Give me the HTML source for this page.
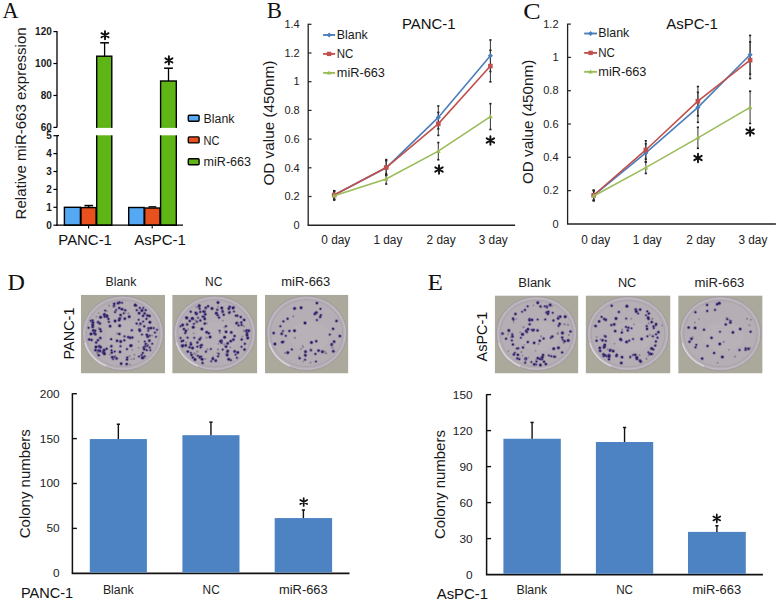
<!DOCTYPE html>
<html><head><meta charset="utf-8"><style>
html,body{margin:0;padding:0;background:#fff;}
svg{display:block;}
</style></head><body>
<svg width="778" height="602" viewBox="0 0 778 602">
<rect width="778" height="602" fill="#fff"/>
<text x="2.40" y="18.40" font-family='"Liberation Serif", serif' font-size="23" font-weight="normal" text-anchor="start" fill="#111" textLength="16.0" lengthAdjust="spacingAndGlyphs">A</text>
<line x1="57.00" y1="31.00" x2="57.00" y2="127.60" stroke="#000" stroke-width="1.3"/>
<line x1="57.00" y1="135.20" x2="57.00" y2="225.80" stroke="#000" stroke-width="1.3"/>
<line x1="53.40" y1="127.40" x2="57.00" y2="127.40" stroke="#000" stroke-width="1.2"/>
<text x="51.80" y="130.80" font-family='"Liberation Sans", sans-serif' font-size="10" font-weight="bold" text-anchor="end" fill="#1a1a1a">60</text>
<line x1="53.40" y1="95.47" x2="57.00" y2="95.47" stroke="#000" stroke-width="1.2"/>
<text x="51.80" y="98.87" font-family='"Liberation Sans", sans-serif' font-size="10" font-weight="bold" text-anchor="end" fill="#1a1a1a">80</text>
<line x1="53.40" y1="63.53" x2="57.00" y2="63.53" stroke="#000" stroke-width="1.2"/>
<text x="51.80" y="66.93" font-family='"Liberation Sans", sans-serif' font-size="10" font-weight="bold" text-anchor="end" fill="#1a1a1a">100</text>
<line x1="53.40" y1="31.60" x2="57.00" y2="31.60" stroke="#000" stroke-width="1.2"/>
<text x="51.80" y="35.00" font-family='"Liberation Sans", sans-serif' font-size="10" font-weight="bold" text-anchor="end" fill="#1a1a1a">120</text>
<line x1="53.40" y1="225.20" x2="57.00" y2="225.20" stroke="#000" stroke-width="1.2"/>
<text x="51.80" y="228.60" font-family='"Liberation Sans", sans-serif' font-size="10" font-weight="bold" text-anchor="end" fill="#1a1a1a">0</text>
<line x1="53.40" y1="207.30" x2="57.00" y2="207.30" stroke="#000" stroke-width="1.2"/>
<text x="51.80" y="210.70" font-family='"Liberation Sans", sans-serif' font-size="10" font-weight="bold" text-anchor="end" fill="#1a1a1a">1</text>
<line x1="53.40" y1="189.40" x2="57.00" y2="189.40" stroke="#000" stroke-width="1.2"/>
<text x="51.80" y="192.80" font-family='"Liberation Sans", sans-serif' font-size="10" font-weight="bold" text-anchor="end" fill="#1a1a1a">2</text>
<line x1="53.40" y1="171.50" x2="57.00" y2="171.50" stroke="#000" stroke-width="1.2"/>
<text x="51.80" y="174.90" font-family='"Liberation Sans", sans-serif' font-size="10" font-weight="bold" text-anchor="end" fill="#1a1a1a">3</text>
<line x1="53.40" y1="153.60" x2="57.00" y2="153.60" stroke="#000" stroke-width="1.2"/>
<text x="51.80" y="157.00" font-family='"Liberation Sans", sans-serif' font-size="10" font-weight="bold" text-anchor="end" fill="#1a1a1a">4</text>
<line x1="53.40" y1="135.70" x2="57.00" y2="135.70" stroke="#000" stroke-width="1.2"/>
<text x="51.80" y="139.10" font-family='"Liberation Sans", sans-serif' font-size="10" font-weight="bold" text-anchor="end" fill="#1a1a1a">5</text>
<line x1="57.00" y1="135.70" x2="59.00" y2="135.70" stroke="#000" stroke-width="1.2"/>
<text transform="translate(25.60,123.40) rotate(-90)" x="0" y="0" font-family='"Liberation Sans", sans-serif' font-size="15" font-weight="normal" text-anchor="middle" fill="#1a1a1a" textLength="192.0" lengthAdjust="spacingAndGlyphs">Relative miR-663 expression</text>
<rect x="64.40" y="207.30" width="16.00" height="17.90" fill="#55a8f4" stroke="#000" stroke-width="1.4"/>
<rect x="81.00" y="207.60" width="15.10" height="17.60" fill="#e8501e" stroke="#000" stroke-width="1.4"/>
<rect x="128.70" y="207.50" width="15.40" height="17.70" fill="#55a8f4" stroke="#000" stroke-width="1.4"/>
<rect x="144.70" y="208.00" width="15.30" height="17.20" fill="#e8501e" stroke="#000" stroke-width="1.4"/>
<rect x="96.70" y="56.20" width="15.10" height="169.00" fill="#5fb515" stroke="#000" stroke-width="1.4"/>
<rect x="160.60" y="81.00" width="15.70" height="144.20" fill="#5fb515" stroke="#000" stroke-width="1.4"/>
<rect x="90.00" y="127.90" width="92.00" height="7.40" fill="#fff"/>
<line x1="84.40" y1="205.60" x2="93.10" y2="205.60" stroke="#000" stroke-width="1.6"/>
<line x1="88.60" y1="205.60" x2="88.60" y2="207.30" stroke="#000" stroke-width="1.3"/>
<line x1="148.50" y1="206.80" x2="156.30" y2="206.80" stroke="#000" stroke-width="1.3"/>
<line x1="104.60" y1="42.80" x2="104.60" y2="56.20" stroke="#000" stroke-width="1.3"/>
<line x1="100.20" y1="42.80" x2="109.00" y2="42.80" stroke="#000" stroke-width="1.5"/>
<line x1="168.50" y1="68.20" x2="168.50" y2="81.00" stroke="#000" stroke-width="1.3"/>
<line x1="164.10" y1="68.20" x2="172.90" y2="68.20" stroke="#000" stroke-width="1.5"/>
<path d="M105.00,31.10L105.00,39.30M101.45,33.15L108.55,37.25M108.55,33.15L101.45,37.25" stroke="#111" stroke-width="1.9" stroke-linecap="round" fill="none"/>
<path d="M168.90,56.30L168.90,64.50M165.35,58.35L172.45,62.45M172.45,58.35L165.35,62.45" stroke="#111" stroke-width="1.9" stroke-linecap="round" fill="none"/>
<line x1="56.40" y1="225.20" x2="183.00" y2="225.20" stroke="#000" stroke-width="1.3"/>
<line x1="88.60" y1="225.20" x2="88.60" y2="228.60" stroke="#000" stroke-width="1.1"/>
<line x1="152.20" y1="225.20" x2="152.20" y2="228.60" stroke="#000" stroke-width="1.1"/>
<text x="58.30" y="244.70" font-family='"Liberation Sans", sans-serif' font-size="14.5" font-weight="normal" text-anchor="start" fill="#111" textLength="53.6" lengthAdjust="spacingAndGlyphs">PANC-1</text>
<text x="134.20" y="244.70" font-family='"Liberation Sans", sans-serif' font-size="14.5" font-weight="normal" text-anchor="start" fill="#111" textLength="51.7" lengthAdjust="spacingAndGlyphs">AsPC-1</text>
<rect x="188.3" y="115.30" width="10.8" height="6.0" rx="1.0" fill="#55a8f4" stroke="#000" stroke-width="1.4"/>
<text x="203.60" y="122.90" font-family='"Liberation Sans", sans-serif' font-size="12.3" font-weight="normal" text-anchor="start" fill="#1a1a1a" textLength="30.9" lengthAdjust="spacingAndGlyphs">Blank</text>
<rect x="188.3" y="136.90" width="10.8" height="6.0" rx="1.0" fill="#e8501e" stroke="#000" stroke-width="1.4"/>
<text x="203.60" y="144.50" font-family='"Liberation Sans", sans-serif' font-size="12.3" font-weight="normal" text-anchor="start" fill="#1a1a1a" textLength="16.0" lengthAdjust="spacingAndGlyphs">NC</text>
<rect x="188.3" y="158.70" width="10.8" height="6.0" rx="1.0" fill="#5fb515" stroke="#000" stroke-width="1.4"/>
<text x="203.60" y="166.30" font-family='"Liberation Sans", sans-serif' font-size="12.3" font-weight="normal" text-anchor="start" fill="#1a1a1a" textLength="47.4" lengthAdjust="spacingAndGlyphs">miR-663</text>
<text x="266.80" y="18.00" font-family='"Liberation Serif", serif' font-size="23" font-weight="normal" text-anchor="start" fill="#111" textLength="15.2" lengthAdjust="spacingAndGlyphs">B</text>
<line x1="308.20" y1="23.80" x2="308.20" y2="225.20" stroke="#222" stroke-width="1.3"/>
<line x1="307.60" y1="225.20" x2="515.10" y2="225.20" stroke="#222" stroke-width="1.5"/>
<text x="299.70" y="228.90" font-family='"Liberation Sans", sans-serif' font-size="11" font-weight="normal" text-anchor="end" fill="#222">0</text>
<line x1="308.20" y1="196.50" x2="311.50" y2="196.50" stroke="#222" stroke-width="1.2"/>
<text x="299.70" y="200.20" font-family='"Liberation Sans", sans-serif' font-size="11" font-weight="normal" text-anchor="end" fill="#222">0.2</text>
<line x1="308.20" y1="167.80" x2="311.50" y2="167.80" stroke="#222" stroke-width="1.2"/>
<text x="299.70" y="171.50" font-family='"Liberation Sans", sans-serif' font-size="11" font-weight="normal" text-anchor="end" fill="#222">0.4</text>
<line x1="308.20" y1="139.10" x2="311.50" y2="139.10" stroke="#222" stroke-width="1.2"/>
<text x="299.70" y="142.80" font-family='"Liberation Sans", sans-serif' font-size="11" font-weight="normal" text-anchor="end" fill="#222">0.6</text>
<line x1="308.20" y1="110.40" x2="311.50" y2="110.40" stroke="#222" stroke-width="1.2"/>
<text x="299.70" y="114.10" font-family='"Liberation Sans", sans-serif' font-size="11" font-weight="normal" text-anchor="end" fill="#222">0.8</text>
<line x1="308.20" y1="81.70" x2="311.50" y2="81.70" stroke="#222" stroke-width="1.2"/>
<text x="299.70" y="85.40" font-family='"Liberation Sans", sans-serif' font-size="11" font-weight="normal" text-anchor="end" fill="#222">1</text>
<line x1="308.20" y1="53.00" x2="311.50" y2="53.00" stroke="#222" stroke-width="1.2"/>
<text x="299.70" y="56.70" font-family='"Liberation Sans", sans-serif' font-size="11" font-weight="normal" text-anchor="end" fill="#222">1.2</text>
<line x1="308.20" y1="24.30" x2="311.50" y2="24.30" stroke="#222" stroke-width="1.2"/>
<text x="299.70" y="28.00" font-family='"Liberation Sans", sans-serif' font-size="11" font-weight="normal" text-anchor="end" fill="#222">1.4</text>
<text x="321.30" y="243.60" font-family='"Liberation Sans", sans-serif' font-size="12" font-weight="normal" text-anchor="start" fill="#222" textLength="29.0" lengthAdjust="spacingAndGlyphs">0 day</text>
<text x="373.40" y="243.60" font-family='"Liberation Sans", sans-serif' font-size="12" font-weight="normal" text-anchor="start" fill="#222" textLength="29.0" lengthAdjust="spacingAndGlyphs">1 day</text>
<text x="426.60" y="243.60" font-family='"Liberation Sans", sans-serif' font-size="12" font-weight="normal" text-anchor="start" fill="#222" textLength="29.0" lengthAdjust="spacingAndGlyphs">2 day</text>
<text x="478.70" y="243.60" font-family='"Liberation Sans", sans-serif' font-size="12" font-weight="normal" text-anchor="start" fill="#222" textLength="29.0" lengthAdjust="spacingAndGlyphs">3 day</text>
<text x="402.00" y="29.30" font-family='"Liberation Sans", sans-serif' font-size="14.2" font-weight="normal" text-anchor="start" fill="#111" textLength="53.6" lengthAdjust="spacingAndGlyphs">PANC-1</text>
<text transform="translate(273.80,123.10) rotate(-90)" x="0" y="0" font-family='"Liberation Sans", sans-serif' font-size="15" font-weight="normal" text-anchor="middle" fill="#1a1a1a" textLength="125.0" lengthAdjust="spacingAndGlyphs">OD value (450nm)</text>
<line x1="334.20" y1="190.76" x2="334.20" y2="199.37" stroke="#333" stroke-width="1.0"/>
<line x1="333.10" y1="190.76" x2="335.30" y2="190.76" stroke="#222" stroke-width="1.6"/>
<line x1="333.10" y1="199.37" x2="335.30" y2="199.37" stroke="#222" stroke-width="1.6"/>
<line x1="386.20" y1="160.62" x2="386.20" y2="174.97" stroke="#333" stroke-width="1.0"/>
<line x1="385.10" y1="160.62" x2="387.30" y2="160.62" stroke="#222" stroke-width="1.6"/>
<line x1="385.10" y1="174.97" x2="387.30" y2="174.97" stroke="#222" stroke-width="1.6"/>
<line x1="438.30" y1="105.95" x2="438.30" y2="128.91" stroke="#333" stroke-width="1.0"/>
<line x1="437.20" y1="105.95" x2="439.40" y2="105.95" stroke="#222" stroke-width="1.6"/>
<line x1="437.20" y1="128.91" x2="439.40" y2="128.91" stroke="#222" stroke-width="1.6"/>
<line x1="490.40" y1="39.94" x2="490.40" y2="71.51" stroke="#333" stroke-width="1.0"/>
<line x1="489.30" y1="39.94" x2="491.50" y2="39.94" stroke="#222" stroke-width="1.6"/>
<line x1="489.30" y1="71.51" x2="491.50" y2="71.51" stroke="#222" stroke-width="1.6"/>
<line x1="334.20" y1="190.76" x2="334.20" y2="199.37" stroke="#333" stroke-width="1.0"/>
<line x1="333.10" y1="190.76" x2="335.30" y2="190.76" stroke="#222" stroke-width="1.6"/>
<line x1="333.10" y1="199.37" x2="335.30" y2="199.37" stroke="#222" stroke-width="1.6"/>
<line x1="386.20" y1="159.62" x2="386.20" y2="175.41" stroke="#333" stroke-width="1.0"/>
<line x1="385.10" y1="159.62" x2="387.30" y2="159.62" stroke="#222" stroke-width="1.6"/>
<line x1="385.10" y1="175.41" x2="387.30" y2="175.41" stroke="#222" stroke-width="1.6"/>
<line x1="438.30" y1="112.41" x2="438.30" y2="135.37" stroke="#333" stroke-width="1.0"/>
<line x1="437.20" y1="112.41" x2="439.40" y2="112.41" stroke="#222" stroke-width="1.6"/>
<line x1="437.20" y1="135.37" x2="439.40" y2="135.37" stroke="#222" stroke-width="1.6"/>
<line x1="490.40" y1="50.27" x2="490.40" y2="81.84" stroke="#333" stroke-width="1.0"/>
<line x1="489.30" y1="50.27" x2="491.50" y2="50.27" stroke="#222" stroke-width="1.6"/>
<line x1="489.30" y1="81.84" x2="491.50" y2="81.84" stroke="#222" stroke-width="1.6"/>
<line x1="334.20" y1="191.48" x2="334.20" y2="200.09" stroke="#333" stroke-width="1.0"/>
<line x1="333.10" y1="191.48" x2="335.30" y2="191.48" stroke="#222" stroke-width="1.6"/>
<line x1="333.10" y1="200.09" x2="335.30" y2="200.09" stroke="#222" stroke-width="1.6"/>
<line x1="386.20" y1="173.97" x2="386.20" y2="184.02" stroke="#333" stroke-width="1.0"/>
<line x1="385.10" y1="173.97" x2="387.30" y2="173.97" stroke="#222" stroke-width="1.6"/>
<line x1="385.10" y1="184.02" x2="387.30" y2="184.02" stroke="#222" stroke-width="1.6"/>
<line x1="438.30" y1="142.54" x2="438.30" y2="159.76" stroke="#333" stroke-width="1.0"/>
<line x1="437.20" y1="142.54" x2="439.40" y2="142.54" stroke="#222" stroke-width="1.6"/>
<line x1="437.20" y1="159.76" x2="439.40" y2="159.76" stroke="#222" stroke-width="1.6"/>
<line x1="490.40" y1="103.66" x2="490.40" y2="129.49" stroke="#333" stroke-width="1.0"/>
<line x1="489.30" y1="103.66" x2="491.50" y2="103.66" stroke="#222" stroke-width="1.6"/>
<line x1="489.30" y1="129.49" x2="491.50" y2="129.49" stroke="#222" stroke-width="1.6"/>
<polyline points="334.20,195.06 386.20,167.80 438.30,117.43 490.40,55.73" fill="none" stroke="#4a7ebb" stroke-width="1.6"/>
<path d="M334.2,192.465L336.8,195.065L334.2,197.665L331.59999999999997,195.065Z" fill="#4a7ebb"/>
<path d="M386.2,165.2L388.8,167.79999999999998L386.2,170.39999999999998L383.59999999999997,167.79999999999998Z" fill="#4a7ebb"/>
<path d="M438.3,114.83149999999999L440.90000000000003,117.43149999999999L438.3,120.03149999999998L435.7,117.43149999999999Z" fill="#4a7ebb"/>
<path d="M490.4,53.126499999999986L493.0,55.72649999999999L490.4,58.32649999999999L487.79999999999995,55.72649999999999Z" fill="#4a7ebb"/>
<polyline points="334.20,195.06 386.20,167.51 438.30,123.89 490.40,66.06" fill="none" stroke="#c0504d" stroke-width="1.6"/>
<rect x="331.9" y="192.765" width="4.6" height="4.6" fill="#c0504d"/>
<rect x="383.9" y="165.21299999999997" width="4.6" height="4.6" fill="#c0504d"/>
<rect x="436.0" y="121.589" width="4.6" height="4.6" fill="#c0504d"/>
<rect x="488.09999999999997" y="63.758499999999984" width="4.6" height="4.6" fill="#c0504d"/>
<polyline points="334.20,195.78 386.20,178.99 438.30,151.15 490.40,116.57" fill="none" stroke="#9bbb59" stroke-width="1.6"/>
<path d="M334.2,193.1825L336.59999999999997,197.5825L331.8,197.5825Z" fill="#9bbb59"/>
<path d="M386.2,176.393L388.59999999999997,180.793L383.8,180.793Z" fill="#9bbb59"/>
<path d="M438.3,148.554L440.7,152.954L435.90000000000003,152.954Z" fill="#9bbb59"/>
<path d="M490.4,113.97049999999999L492.79999999999995,118.37049999999998L488.0,118.37049999999998Z" fill="#9bbb59"/>
<line x1="323.10" y1="35.00" x2="335.10" y2="35.00" stroke="#4a7ebb" stroke-width="1.9"/>
<path d="M329.1,32.6L331.5,35.0L329.1,37.4L326.70000000000005,35.0Z" fill="#4a7ebb"/>
<text x="336.80" y="38.80" font-family='"Liberation Sans", sans-serif' font-size="12.4" font-weight="normal" text-anchor="start" fill="#1a1a1a" textLength="31.0" lengthAdjust="spacingAndGlyphs">Blank</text>
<line x1="323.10" y1="53.90" x2="335.10" y2="53.90" stroke="#c0504d" stroke-width="1.9"/>
<rect x="326.90000000000003" y="51.699999999999996" width="4.4" height="4.4" fill="#c0504d"/>
<text x="336.80" y="57.70" font-family='"Liberation Sans", sans-serif' font-size="12.4" font-weight="normal" text-anchor="start" fill="#1a1a1a" textLength="16.6" lengthAdjust="spacingAndGlyphs">NC</text>
<line x1="323.10" y1="72.90" x2="335.10" y2="72.90" stroke="#9bbb59" stroke-width="1.9"/>
<path d="M329.1,70.5L331.3,74.60000000000001L326.90000000000003,74.60000000000001Z" fill="#9bbb59"/>
<text x="336.80" y="76.90" font-family='"Liberation Sans", sans-serif' font-size="12.4" font-weight="normal" text-anchor="start" fill="#1a1a1a" textLength="48.1" lengthAdjust="spacingAndGlyphs">miR-663</text>
<path d="M439.00,165.20L439.00,173.80M435.28,167.35L442.72,171.65M442.72,167.35L435.28,171.65" stroke="#111" stroke-width="1.9" stroke-linecap="round" fill="none"/>
<path d="M490.40,136.20L490.40,144.80M486.68,138.35L494.12,142.65M494.12,138.35L486.68,142.65" stroke="#111" stroke-width="1.9" stroke-linecap="round" fill="none"/>
<text x="523.30" y="18.60" font-family='"Liberation Serif", serif' font-size="23" font-weight="normal" text-anchor="start" fill="#111" textLength="17.4" lengthAdjust="spacingAndGlyphs">C</text>
<line x1="567.60" y1="23.70" x2="567.60" y2="223.90" stroke="#222" stroke-width="1.3"/>
<line x1="567.00" y1="223.90" x2="775.90" y2="223.90" stroke="#222" stroke-width="1.5"/>
<text x="558.50" y="227.60" font-family='"Liberation Sans", sans-serif' font-size="11" font-weight="normal" text-anchor="end" fill="#222">0</text>
<line x1="567.60" y1="190.60" x2="570.90" y2="190.60" stroke="#222" stroke-width="1.2"/>
<text x="558.50" y="194.30" font-family='"Liberation Sans", sans-serif' font-size="11" font-weight="normal" text-anchor="end" fill="#222">0.2</text>
<line x1="567.60" y1="157.30" x2="570.90" y2="157.30" stroke="#222" stroke-width="1.2"/>
<text x="558.50" y="161.00" font-family='"Liberation Sans", sans-serif' font-size="11" font-weight="normal" text-anchor="end" fill="#222">0.4</text>
<line x1="567.60" y1="124.00" x2="570.90" y2="124.00" stroke="#222" stroke-width="1.2"/>
<text x="558.50" y="127.70" font-family='"Liberation Sans", sans-serif' font-size="11" font-weight="normal" text-anchor="end" fill="#222">0.6</text>
<line x1="567.60" y1="90.70" x2="570.90" y2="90.70" stroke="#222" stroke-width="1.2"/>
<text x="558.50" y="94.40" font-family='"Liberation Sans", sans-serif' font-size="11" font-weight="normal" text-anchor="end" fill="#222">0.8</text>
<line x1="567.60" y1="57.40" x2="570.90" y2="57.40" stroke="#222" stroke-width="1.2"/>
<text x="558.50" y="61.10" font-family='"Liberation Sans", sans-serif' font-size="11" font-weight="normal" text-anchor="end" fill="#222">1</text>
<line x1="567.60" y1="24.10" x2="570.90" y2="24.10" stroke="#222" stroke-width="1.2"/>
<text x="558.50" y="27.80" font-family='"Liberation Sans", sans-serif' font-size="11" font-weight="normal" text-anchor="end" fill="#222">1.2</text>
<text x="581.20" y="244.00" font-family='"Liberation Sans", sans-serif' font-size="12" font-weight="normal" text-anchor="start" fill="#222" textLength="29.0" lengthAdjust="spacingAndGlyphs">0 day</text>
<text x="632.80" y="244.00" font-family='"Liberation Sans", sans-serif' font-size="12" font-weight="normal" text-anchor="start" fill="#222" textLength="29.0" lengthAdjust="spacingAndGlyphs">1 day</text>
<text x="686.30" y="244.00" font-family='"Liberation Sans", sans-serif' font-size="12" font-weight="normal" text-anchor="start" fill="#222" textLength="29.0" lengthAdjust="spacingAndGlyphs">2 day</text>
<text x="738.40" y="244.00" font-family='"Liberation Sans", sans-serif' font-size="12" font-weight="normal" text-anchor="start" fill="#222" textLength="29.0" lengthAdjust="spacingAndGlyphs">3 day</text>
<text x="666.20" y="28.90" font-family='"Liberation Sans", sans-serif' font-size="14.2" font-weight="normal" text-anchor="start" fill="#111" textLength="51.6" lengthAdjust="spacingAndGlyphs">AsPC-1</text>
<text transform="translate(532.80,121.90) rotate(-90)" x="0" y="0" font-family='"Liberation Sans", sans-serif' font-size="15" font-weight="normal" text-anchor="middle" fill="#1a1a1a" textLength="124.2" lengthAdjust="spacingAndGlyphs">OD value (450nm)</text>
<line x1="593.70" y1="190.27" x2="593.70" y2="200.26" stroke="#333" stroke-width="1.0"/>
<line x1="592.60" y1="190.27" x2="594.80" y2="190.27" stroke="#222" stroke-width="1.6"/>
<line x1="592.60" y1="200.26" x2="594.80" y2="200.26" stroke="#222" stroke-width="1.6"/>
<line x1="645.80" y1="143.81" x2="645.80" y2="162.13" stroke="#333" stroke-width="1.0"/>
<line x1="644.70" y1="143.81" x2="646.90" y2="143.81" stroke="#222" stroke-width="1.6"/>
<line x1="644.70" y1="162.13" x2="646.90" y2="162.13" stroke="#222" stroke-width="1.6"/>
<line x1="697.90" y1="92.37" x2="697.90" y2="122.34" stroke="#333" stroke-width="1.0"/>
<line x1="696.80" y1="92.37" x2="699.00" y2="92.37" stroke="#222" stroke-width="1.6"/>
<line x1="696.80" y1="122.34" x2="699.00" y2="122.34" stroke="#222" stroke-width="1.6"/>
<line x1="750.10" y1="35.42" x2="750.10" y2="74.05" stroke="#333" stroke-width="1.0"/>
<line x1="749.00" y1="35.42" x2="751.20" y2="35.42" stroke="#222" stroke-width="1.6"/>
<line x1="749.00" y1="74.05" x2="751.20" y2="74.05" stroke="#222" stroke-width="1.6"/>
<line x1="593.70" y1="190.27" x2="593.70" y2="200.26" stroke="#333" stroke-width="1.0"/>
<line x1="592.60" y1="190.27" x2="594.80" y2="190.27" stroke="#222" stroke-width="1.6"/>
<line x1="592.60" y1="200.26" x2="594.80" y2="200.26" stroke="#222" stroke-width="1.6"/>
<line x1="645.80" y1="140.82" x2="645.80" y2="159.13" stroke="#333" stroke-width="1.0"/>
<line x1="644.70" y1="140.82" x2="646.90" y2="140.82" stroke="#222" stroke-width="1.6"/>
<line x1="644.70" y1="159.13" x2="646.90" y2="159.13" stroke="#222" stroke-width="1.6"/>
<line x1="697.90" y1="86.54" x2="697.90" y2="115.84" stroke="#333" stroke-width="1.0"/>
<line x1="696.80" y1="86.54" x2="699.00" y2="86.54" stroke="#222" stroke-width="1.6"/>
<line x1="696.80" y1="115.84" x2="699.00" y2="115.84" stroke="#222" stroke-width="1.6"/>
<line x1="750.10" y1="41.92" x2="750.10" y2="78.55" stroke="#333" stroke-width="1.0"/>
<line x1="749.00" y1="41.92" x2="751.20" y2="41.92" stroke="#222" stroke-width="1.6"/>
<line x1="749.00" y1="78.55" x2="751.20" y2="78.55" stroke="#222" stroke-width="1.6"/>
<line x1="593.70" y1="190.93" x2="593.70" y2="200.92" stroke="#333" stroke-width="1.0"/>
<line x1="592.60" y1="190.93" x2="594.80" y2="190.93" stroke="#222" stroke-width="1.6"/>
<line x1="592.60" y1="200.92" x2="594.80" y2="200.92" stroke="#222" stroke-width="1.6"/>
<line x1="645.80" y1="161.80" x2="645.80" y2="173.45" stroke="#333" stroke-width="1.0"/>
<line x1="644.70" y1="161.80" x2="646.90" y2="161.80" stroke="#222" stroke-width="1.6"/>
<line x1="644.70" y1="173.45" x2="646.90" y2="173.45" stroke="#222" stroke-width="1.6"/>
<line x1="697.90" y1="127.33" x2="697.90" y2="148.31" stroke="#333" stroke-width="1.0"/>
<line x1="696.80" y1="127.33" x2="699.00" y2="127.33" stroke="#222" stroke-width="1.6"/>
<line x1="696.80" y1="148.31" x2="699.00" y2="148.31" stroke="#222" stroke-width="1.6"/>
<line x1="750.10" y1="91.20" x2="750.10" y2="123.50" stroke="#333" stroke-width="1.0"/>
<line x1="749.00" y1="91.20" x2="751.20" y2="91.20" stroke="#222" stroke-width="1.6"/>
<line x1="749.00" y1="123.50" x2="751.20" y2="123.50" stroke="#222" stroke-width="1.6"/>
<polyline points="593.70,195.26 645.80,152.97 697.90,107.35 750.10,54.74" fill="none" stroke="#4a7ebb" stroke-width="1.6"/>
<path d="M593.7,192.662L596.3000000000001,195.262L593.7,197.862L591.1,195.262Z" fill="#4a7ebb"/>
<path d="M645.8,150.371L648.4,152.971L645.8,155.571L643.1999999999999,152.971Z" fill="#4a7ebb"/>
<path d="M697.9,104.75000000000001L700.5,107.35000000000001L697.9,109.95L695.3,107.35000000000001Z" fill="#4a7ebb"/>
<path d="M750.1,52.13599999999999L752.7,54.73599999999999L750.1,57.33599999999999L747.5,54.73599999999999Z" fill="#4a7ebb"/>
<polyline points="593.70,195.26 645.80,149.97 697.90,101.19 750.10,60.23" fill="none" stroke="#c0504d" stroke-width="1.6"/>
<rect x="591.4000000000001" y="192.962" width="4.6" height="4.6" fill="#c0504d"/>
<rect x="643.5" y="147.67399999999998" width="4.6" height="4.6" fill="#c0504d"/>
<rect x="695.6" y="98.88950000000001" width="4.6" height="4.6" fill="#c0504d"/>
<rect x="747.8000000000001" y="57.93050000000001" width="4.6" height="4.6" fill="#c0504d"/>
<polyline points="593.70,195.93 645.80,167.62 697.90,137.82 750.10,107.35" fill="none" stroke="#9bbb59" stroke-width="1.6"/>
<path d="M593.7,193.328L596.1,197.728L591.3000000000001,197.728Z" fill="#9bbb59"/>
<path d="M645.8,165.023L648.1999999999999,169.423L643.4,169.423Z" fill="#9bbb59"/>
<path d="M697.9,135.2195L700.3,139.61950000000002L695.5,139.61950000000002Z" fill="#9bbb59"/>
<path d="M750.1,104.75000000000001L752.5,109.15L747.7,109.15Z" fill="#9bbb59"/>
<line x1="584.20" y1="33.50" x2="597.00" y2="33.50" stroke="#4a7ebb" stroke-width="1.9"/>
<path d="M590.6,31.1L593.0,33.5L590.6,35.9L588.2,33.5Z" fill="#4a7ebb"/>
<text x="598.30" y="37.40" font-family='"Liberation Sans", sans-serif' font-size="12.4" font-weight="normal" text-anchor="start" fill="#1a1a1a" textLength="31.0" lengthAdjust="spacingAndGlyphs">Blank</text>
<line x1="584.20" y1="52.90" x2="597.00" y2="52.90" stroke="#c0504d" stroke-width="1.9"/>
<rect x="588.4" y="50.699999999999996" width="4.4" height="4.4" fill="#c0504d"/>
<text x="598.30" y="56.70" font-family='"Liberation Sans", sans-serif' font-size="12.4" font-weight="normal" text-anchor="start" fill="#1a1a1a" textLength="16.6" lengthAdjust="spacingAndGlyphs">NC</text>
<line x1="584.20" y1="71.80" x2="597.00" y2="71.80" stroke="#9bbb59" stroke-width="1.9"/>
<path d="M590.6,69.39999999999999L592.8000000000001,73.5L588.4,73.5Z" fill="#9bbb59"/>
<text x="598.30" y="75.50" font-family='"Liberation Sans", sans-serif' font-size="12.4" font-weight="normal" text-anchor="start" fill="#1a1a1a" textLength="48.1" lengthAdjust="spacingAndGlyphs">miR-663</text>
<path d="M698.00,153.70L698.00,162.30M694.28,155.85L701.72,160.15M701.72,155.85L694.28,160.15" stroke="#111" stroke-width="1.9" stroke-linecap="round" fill="none"/>
<path d="M750.10,127.20L750.10,135.80M746.38,129.35L753.82,133.65M753.82,129.35L746.38,133.65" stroke="#111" stroke-width="1.9" stroke-linecap="round" fill="none"/>
<text x="7.40" y="289.80" font-family='"Liberation Serif", serif' font-size="23" font-weight="normal" text-anchor="start" fill="#111" textLength="17.4" lengthAdjust="spacingAndGlyphs">D</text>
<text transform="translate(74.30,333.50) rotate(-90)" x="0" y="0" font-family='"Liberation Sans", sans-serif' font-size="15.5" font-weight="normal" text-anchor="middle" fill="#111" textLength="51.9" lengthAdjust="spacingAndGlyphs">PANC-1</text>
<text x="105.50" y="286.20" font-family='"Liberation Sans", sans-serif' font-size="12.5" font-weight="normal" text-anchor="start" fill="#222" textLength="30.8" lengthAdjust="spacingAndGlyphs">Blank</text>
<text x="205.00" y="286.20" font-family='"Liberation Sans", sans-serif' font-size="12.5" font-weight="normal" text-anchor="start" fill="#222" textLength="17.3" lengthAdjust="spacingAndGlyphs">NC</text>
<text x="281.30" y="286.20" font-family='"Liberation Sans", sans-serif' font-size="12.5" font-weight="normal" text-anchor="start" fill="#222" textLength="49.0" lengthAdjust="spacingAndGlyphs">miR-663</text>
<clipPath id="clip11"><rect x="80.80" y="294.70" width="84.20" height="78.80"/></clipPath>
<g clip-path="url(#clip11)">
<rect x="80.80" y="294.70" width="84.20" height="78.80" fill="#aaa99b"/>
<ellipse cx="122.90" cy="333.30" rx="40.50" ry="37.40" fill="#b4adb4" stroke="#9e989e" stroke-width="0.8"/>
<ellipse cx="122.90" cy="333.30" rx="38.90" ry="35.80" fill="none" stroke="#c0b9c1" stroke-width="1.2"/>
<ellipse cx="122.90" cy="333.30" rx="36.50" ry="33.40" fill="#b5aeb4" stroke="#a69ea7" stroke-width="0.7"/>
<ellipse cx="125.90" cy="336.30" rx="20.25" ry="14.96" fill="#bdb7bd" opacity="0.4"/>
<path d="M106.29,366.11A39.30,36.20 0 0 1 84.94,342.67" fill="none" stroke="#dcd8dc" stroke-width="1.6" opacity="0.85"/>
<circle cx="97.93" cy="340.34" r="1.78" fill="#5e4f96" opacity="0.5"/>
<circle cx="97.93" cy="340.34" r="0.98" fill="#2a1d5c"/>
<circle cx="110.10" cy="326.14" r="1.94" fill="#5e4f96" opacity="0.5"/>
<circle cx="110.10" cy="326.14" r="1.14" fill="#2a1d5c"/>
<circle cx="150.35" cy="350.15" r="1.52" fill="#5e4f96" opacity="0.5"/>
<circle cx="150.35" cy="350.15" r="0.72" fill="#2a1d5c"/>
<circle cx="156.98" cy="329.80" r="1.59" fill="#5e4f96" opacity="0.5"/>
<circle cx="156.98" cy="329.80" r="0.79" fill="#2a1d5c"/>
<circle cx="149.83" cy="335.63" r="1.52" fill="#5e4f96" opacity="0.5"/>
<circle cx="149.83" cy="335.63" r="0.72" fill="#2a1d5c"/>
<circle cx="100.32" cy="338.06" r="1.85" fill="#5e4f96" opacity="0.5"/>
<circle cx="100.32" cy="338.06" r="1.05" fill="#2a1d5c"/>
<circle cx="94.48" cy="333.34" r="2.05" fill="#5e4f96" opacity="0.5"/>
<circle cx="94.48" cy="333.34" r="1.25" fill="#2a1d5c"/>
<circle cx="154.90" cy="332.51" r="1.63" fill="#5e4f96" opacity="0.5"/>
<circle cx="154.90" cy="332.51" r="0.83" fill="#2a1d5c"/>
<circle cx="120.65" cy="341.50" r="1.97" fill="#5e4f96" opacity="0.5"/>
<circle cx="120.65" cy="341.50" r="1.17" fill="#2a1d5c"/>
<circle cx="97.05" cy="353.73" r="0.88" fill="#7a7084" opacity="0.7"/>
<circle cx="143.13" cy="321.61" r="1.54" fill="#5e4f96" opacity="0.5"/>
<circle cx="143.13" cy="321.61" r="0.74" fill="#2a1d5c"/>
<circle cx="105.00" cy="316.00" r="2.03" fill="#5e4f96" opacity="0.5"/>
<circle cx="105.00" cy="316.00" r="1.23" fill="#2a1d5c"/>
<circle cx="124.22" cy="309.40" r="1.12" fill="#7a7084" opacity="0.7"/>
<circle cx="134.36" cy="354.74" r="1.09" fill="#7a7084" opacity="0.7"/>
<circle cx="142.82" cy="352.92" r="1.65" fill="#5e4f96" opacity="0.5"/>
<circle cx="142.82" cy="352.92" r="0.85" fill="#2a1d5c"/>
<circle cx="153.68" cy="328.10" r="1.62" fill="#5e4f96" opacity="0.5"/>
<circle cx="153.68" cy="328.10" r="0.82" fill="#2a1d5c"/>
<circle cx="97.49" cy="351.49" r="1.20" fill="#7a7084" opacity="0.7"/>
<circle cx="126.96" cy="349.09" r="1.66" fill="#5e4f96" opacity="0.5"/>
<circle cx="126.96" cy="349.09" r="0.86" fill="#2a1d5c"/>
<circle cx="132.29" cy="337.56" r="1.83" fill="#5e4f96" opacity="0.5"/>
<circle cx="132.29" cy="337.56" r="1.03" fill="#2a1d5c"/>
<circle cx="106.62" cy="348.80" r="1.82" fill="#5e4f96" opacity="0.5"/>
<circle cx="106.62" cy="348.80" r="1.02" fill="#2a1d5c"/>
<circle cx="145.65" cy="310.17" r="1.64" fill="#5e4f96" opacity="0.5"/>
<circle cx="145.65" cy="310.17" r="0.84" fill="#2a1d5c"/>
<circle cx="133.99" cy="358.80" r="1.18" fill="#7a7084" opacity="0.7"/>
<circle cx="142.93" cy="316.58" r="0.82" fill="#7a7084" opacity="0.7"/>
<circle cx="139.48" cy="329.68" r="1.95" fill="#5e4f96" opacity="0.5"/>
<circle cx="139.48" cy="329.68" r="1.15" fill="#2a1d5c"/>
<circle cx="96.43" cy="316.53" r="0.89" fill="#7a7084" opacity="0.7"/>
<circle cx="92.88" cy="322.56" r="2.00" fill="#5e4f96" opacity="0.5"/>
<circle cx="92.88" cy="322.56" r="1.20" fill="#2a1d5c"/>
<circle cx="131.32" cy="359.17" r="0.87" fill="#7a7084" opacity="0.7"/>
<circle cx="103.40" cy="352.57" r="2.04" fill="#5e4f96" opacity="0.5"/>
<circle cx="103.40" cy="352.57" r="1.24" fill="#2a1d5c"/>
<circle cx="106.87" cy="311.18" r="0.81" fill="#7a7084" opacity="0.7"/>
<circle cx="156.01" cy="336.72" r="1.51" fill="#5e4f96" opacity="0.5"/>
<circle cx="156.01" cy="336.72" r="0.71" fill="#2a1d5c"/>
<circle cx="107.00" cy="316.57" r="2.05" fill="#5e4f96" opacity="0.5"/>
<circle cx="107.00" cy="316.57" r="1.25" fill="#2a1d5c"/>
<circle cx="145.87" cy="344.04" r="1.91" fill="#5e4f96" opacity="0.5"/>
<circle cx="145.87" cy="344.04" r="1.11" fill="#2a1d5c"/>
<circle cx="113.98" cy="306.07" r="1.88" fill="#5e4f96" opacity="0.5"/>
<circle cx="113.98" cy="306.07" r="1.08" fill="#2a1d5c"/>
<circle cx="149.37" cy="315.92" r="1.97" fill="#5e4f96" opacity="0.5"/>
<circle cx="149.37" cy="315.92" r="1.17" fill="#2a1d5c"/>
<circle cx="98.13" cy="322.16" r="1.83" fill="#5e4f96" opacity="0.5"/>
<circle cx="98.13" cy="322.16" r="1.03" fill="#2a1d5c"/>
<circle cx="147.35" cy="345.62" r="1.90" fill="#5e4f96" opacity="0.5"/>
<circle cx="147.35" cy="345.62" r="1.10" fill="#2a1d5c"/>
<circle cx="100.02" cy="350.95" r="1.96" fill="#5e4f96" opacity="0.5"/>
<circle cx="100.02" cy="350.95" r="1.16" fill="#2a1d5c"/>
<circle cx="149.74" cy="347.55" r="1.63" fill="#5e4f96" opacity="0.5"/>
<circle cx="149.74" cy="347.55" r="0.83" fill="#2a1d5c"/>
<circle cx="115.05" cy="311.97" r="1.64" fill="#5e4f96" opacity="0.5"/>
<circle cx="115.05" cy="311.97" r="0.84" fill="#2a1d5c"/>
<circle cx="142.01" cy="334.54" r="1.59" fill="#5e4f96" opacity="0.5"/>
<circle cx="142.01" cy="334.54" r="0.79" fill="#2a1d5c"/>
<circle cx="146.44" cy="318.82" r="1.68" fill="#5e4f96" opacity="0.5"/>
<circle cx="146.44" cy="318.82" r="0.88" fill="#2a1d5c"/>
<circle cx="115.06" cy="321.02" r="2.00" fill="#5e4f96" opacity="0.5"/>
<circle cx="115.06" cy="321.02" r="1.20" fill="#2a1d5c"/>
<circle cx="138.71" cy="319.78" r="1.57" fill="#5e4f96" opacity="0.5"/>
<circle cx="138.71" cy="319.78" r="0.77" fill="#2a1d5c"/>
<circle cx="90.96" cy="333.95" r="2.02" fill="#5e4f96" opacity="0.5"/>
<circle cx="90.96" cy="333.95" r="1.22" fill="#2a1d5c"/>
<circle cx="120.49" cy="346.24" r="1.62" fill="#5e4f96" opacity="0.5"/>
<circle cx="120.49" cy="346.24" r="0.82" fill="#2a1d5c"/>
<circle cx="99.21" cy="346.29" r="1.96" fill="#5e4f96" opacity="0.5"/>
<circle cx="99.21" cy="346.29" r="1.16" fill="#2a1d5c"/>
<circle cx="148.24" cy="330.67" r="1.52" fill="#5e4f96" opacity="0.5"/>
<circle cx="148.24" cy="330.67" r="0.72" fill="#2a1d5c"/>
<circle cx="116.12" cy="310.00" r="1.51" fill="#5e4f96" opacity="0.5"/>
<circle cx="116.12" cy="310.00" r="0.71" fill="#2a1d5c"/>
<circle cx="144.76" cy="356.21" r="1.58" fill="#5e4f96" opacity="0.5"/>
<circle cx="144.76" cy="356.21" r="0.78" fill="#2a1d5c"/>
<circle cx="149.40" cy="340.66" r="1.86" fill="#5e4f96" opacity="0.5"/>
<circle cx="149.40" cy="340.66" r="1.06" fill="#2a1d5c"/>
<circle cx="134.96" cy="304.07" r="0.99" fill="#7a7084" opacity="0.7"/>
<circle cx="124.47" cy="336.28" r="1.60" fill="#5e4f96" opacity="0.5"/>
<circle cx="124.47" cy="336.28" r="0.80" fill="#2a1d5c"/>
<circle cx="120.03" cy="351.88" r="1.84" fill="#5e4f96" opacity="0.5"/>
<circle cx="120.03" cy="351.88" r="1.04" fill="#2a1d5c"/>
<circle cx="123.75" cy="313.30" r="1.55" fill="#5e4f96" opacity="0.5"/>
<circle cx="123.75" cy="313.30" r="0.75" fill="#2a1d5c"/>
<circle cx="149.89" cy="322.18" r="2.00" fill="#5e4f96" opacity="0.5"/>
<circle cx="149.89" cy="322.18" r="1.20" fill="#2a1d5c"/>
<circle cx="104.07" cy="350.13" r="2.02" fill="#5e4f96" opacity="0.5"/>
<circle cx="104.07" cy="350.13" r="1.22" fill="#2a1d5c"/>
<circle cx="91.52" cy="339.96" r="1.85" fill="#5e4f96" opacity="0.5"/>
<circle cx="91.52" cy="339.96" r="1.05" fill="#2a1d5c"/>
<circle cx="119.65" cy="318.86" r="2.04" fill="#5e4f96" opacity="0.5"/>
<circle cx="119.65" cy="318.86" r="1.24" fill="#2a1d5c"/>
<circle cx="92.68" cy="326.77" r="1.97" fill="#5e4f96" opacity="0.5"/>
<circle cx="92.68" cy="326.77" r="1.17" fill="#2a1d5c"/>
<circle cx="117.07" cy="340.78" r="1.92" fill="#5e4f96" opacity="0.5"/>
<circle cx="117.07" cy="340.78" r="1.12" fill="#2a1d5c"/>
<circle cx="117.03" cy="333.72" r="1.12" fill="#7a7084" opacity="0.7"/>
<circle cx="132.31" cy="349.65" r="0.86" fill="#7a7084" opacity="0.7"/>
<circle cx="93.36" cy="330.49" r="2.02" fill="#5e4f96" opacity="0.5"/>
<circle cx="93.36" cy="330.49" r="1.22" fill="#2a1d5c"/>
<circle cx="95.58" cy="334.46" r="1.66" fill="#5e4f96" opacity="0.5"/>
<circle cx="95.58" cy="334.46" r="0.86" fill="#2a1d5c"/>
<circle cx="119.20" cy="308.02" r="1.81" fill="#5e4f96" opacity="0.5"/>
<circle cx="119.20" cy="308.02" r="1.01" fill="#2a1d5c"/>
<circle cx="114.75" cy="351.54" r="1.61" fill="#5e4f96" opacity="0.5"/>
<circle cx="114.75" cy="351.54" r="0.81" fill="#2a1d5c"/>
<circle cx="143.23" cy="307.98" r="1.61" fill="#5e4f96" opacity="0.5"/>
<circle cx="143.23" cy="307.98" r="0.81" fill="#2a1d5c"/>
<circle cx="98.76" cy="328.24" r="1.19" fill="#7a7084" opacity="0.7"/>
<circle cx="100.91" cy="331.27" r="1.77" fill="#5e4f96" opacity="0.5"/>
<circle cx="100.91" cy="331.27" r="0.97" fill="#2a1d5c"/>
<circle cx="119.65" cy="325.66" r="2.03" fill="#5e4f96" opacity="0.5"/>
<circle cx="119.65" cy="325.66" r="1.23" fill="#2a1d5c"/>
<circle cx="138.96" cy="325.64" r="0.97" fill="#7a7084" opacity="0.7"/>
<circle cx="136.20" cy="305.56" r="1.61" fill="#5e4f96" opacity="0.5"/>
<circle cx="136.20" cy="305.56" r="0.81" fill="#2a1d5c"/>
<circle cx="98.71" cy="313.09" r="0.88" fill="#7a7084" opacity="0.7"/>
<circle cx="127.02" cy="359.48" r="1.84" fill="#5e4f96" opacity="0.5"/>
<circle cx="127.02" cy="359.48" r="1.04" fill="#2a1d5c"/>
<circle cx="146.75" cy="350.18" r="1.61" fill="#5e4f96" opacity="0.5"/>
<circle cx="146.75" cy="350.18" r="0.81" fill="#2a1d5c"/>
<circle cx="100.24" cy="329.30" r="1.79" fill="#5e4f96" opacity="0.5"/>
<circle cx="100.24" cy="329.30" r="0.99" fill="#2a1d5c"/>
<circle cx="131.38" cy="345.46" r="1.79" fill="#5e4f96" opacity="0.5"/>
<circle cx="131.38" cy="345.46" r="0.99" fill="#2a1d5c"/>
<circle cx="139.13" cy="313.22" r="1.91" fill="#5e4f96" opacity="0.5"/>
<circle cx="139.13" cy="313.22" r="1.11" fill="#2a1d5c"/>
<circle cx="135.21" cy="305.14" r="2.01" fill="#5e4f96" opacity="0.5"/>
<circle cx="135.21" cy="305.14" r="1.21" fill="#2a1d5c"/>
<circle cx="129.84" cy="364.55" r="0.90" fill="#7a7084" opacity="0.7"/>
<circle cx="118.02" cy="303.21" r="1.93" fill="#5e4f96" opacity="0.5"/>
<circle cx="118.02" cy="303.21" r="1.13" fill="#2a1d5c"/>
<circle cx="138.47" cy="347.71" r="0.88" fill="#7a7084" opacity="0.7"/>
<circle cx="109.16" cy="305.54" r="1.00" fill="#7a7084" opacity="0.7"/>
<circle cx="124.17" cy="310.70" r="0.83" fill="#7a7084" opacity="0.7"/>
<circle cx="128.21" cy="337.12" r="1.81" fill="#5e4f96" opacity="0.5"/>
<circle cx="128.21" cy="337.12" r="1.01" fill="#2a1d5c"/>
<circle cx="143.09" cy="357.58" r="2.01" fill="#5e4f96" opacity="0.5"/>
<circle cx="143.09" cy="357.58" r="1.21" fill="#2a1d5c"/>
<circle cx="130.08" cy="337.77" r="1.92" fill="#5e4f96" opacity="0.5"/>
<circle cx="130.08" cy="337.77" r="1.12" fill="#2a1d5c"/>
<circle cx="111.82" cy="352.62" r="1.83" fill="#5e4f96" opacity="0.5"/>
<circle cx="111.82" cy="352.62" r="1.03" fill="#2a1d5c"/>
<circle cx="152.04" cy="335.52" r="0.98" fill="#7a7084" opacity="0.7"/>
<circle cx="121.11" cy="308.86" r="1.51" fill="#5e4f96" opacity="0.5"/>
<circle cx="121.11" cy="308.86" r="0.71" fill="#2a1d5c"/>
<circle cx="147.39" cy="315.53" r="1.85" fill="#5e4f96" opacity="0.5"/>
<circle cx="147.39" cy="315.53" r="1.05" fill="#2a1d5c"/>
<circle cx="100.58" cy="347.25" r="1.94" fill="#5e4f96" opacity="0.5"/>
<circle cx="100.58" cy="347.25" r="1.14" fill="#2a1d5c"/>
<circle cx="121.17" cy="363.72" r="1.95" fill="#5e4f96" opacity="0.5"/>
<circle cx="121.17" cy="363.72" r="1.15" fill="#2a1d5c"/>
<circle cx="95.48" cy="350.18" r="1.92" fill="#5e4f96" opacity="0.5"/>
<circle cx="95.48" cy="350.18" r="1.12" fill="#2a1d5c"/>
<circle cx="125.03" cy="313.06" r="0.94" fill="#7a7084" opacity="0.7"/>
<circle cx="119.37" cy="333.94" r="1.84" fill="#5e4f96" opacity="0.5"/>
<circle cx="119.37" cy="333.94" r="1.04" fill="#2a1d5c"/>
<circle cx="126.71" cy="364.12" r="1.86" fill="#5e4f96" opacity="0.5"/>
<circle cx="126.71" cy="364.12" r="1.06" fill="#2a1d5c"/>
<circle cx="99.80" cy="323.44" r="1.85" fill="#5e4f96" opacity="0.5"/>
<circle cx="99.80" cy="323.44" r="1.05" fill="#2a1d5c"/>
<circle cx="113.71" cy="306.74" r="1.05" fill="#7a7084" opacity="0.7"/>
<circle cx="121.66" cy="317.17" r="0.88" fill="#7a7084" opacity="0.7"/>
<circle cx="98.75" cy="355.18" r="1.78" fill="#5e4f96" opacity="0.5"/>
<circle cx="98.75" cy="355.18" r="0.98" fill="#2a1d5c"/>
<circle cx="148.66" cy="328.37" r="1.95" fill="#5e4f96" opacity="0.5"/>
<circle cx="148.66" cy="328.37" r="1.15" fill="#2a1d5c"/>
<circle cx="146.86" cy="344.66" r="1.17" fill="#7a7084" opacity="0.7"/>
<circle cx="138.99" cy="356.46" r="1.53" fill="#5e4f96" opacity="0.5"/>
<circle cx="138.99" cy="356.46" r="0.73" fill="#2a1d5c"/>
<circle cx="144.22" cy="326.32" r="1.70" fill="#5e4f96" opacity="0.5"/>
<circle cx="144.22" cy="326.32" r="0.90" fill="#2a1d5c"/>
<circle cx="116.60" cy="358.48" r="1.89" fill="#5e4f96" opacity="0.5"/>
<circle cx="116.60" cy="358.48" r="1.09" fill="#2a1d5c"/>
<circle cx="115.59" cy="355.74" r="1.10" fill="#7a7084" opacity="0.7"/>
<circle cx="97.42" cy="352.58" r="1.20" fill="#7a7084" opacity="0.7"/>
<circle cx="131.80" cy="330.34" r="1.76" fill="#5e4f96" opacity="0.5"/>
<circle cx="131.80" cy="330.34" r="0.96" fill="#2a1d5c"/>
<circle cx="139.89" cy="330.66" r="1.90" fill="#5e4f96" opacity="0.5"/>
<circle cx="139.89" cy="330.66" r="1.10" fill="#2a1d5c"/>
<circle cx="89.03" cy="339.54" r="1.56" fill="#5e4f96" opacity="0.5"/>
<circle cx="89.03" cy="339.54" r="0.76" fill="#2a1d5c"/>
<circle cx="104.64" cy="316.77" r="1.57" fill="#5e4f96" opacity="0.5"/>
<circle cx="104.64" cy="316.77" r="0.77" fill="#2a1d5c"/>
<circle cx="96.18" cy="342.46" r="1.82" fill="#5e4f96" opacity="0.5"/>
<circle cx="96.18" cy="342.46" r="1.02" fill="#2a1d5c"/>
<circle cx="95.95" cy="346.93" r="2.02" fill="#5e4f96" opacity="0.5"/>
<circle cx="95.95" cy="346.93" r="1.22" fill="#2a1d5c"/>
<circle cx="119.56" cy="302.49" r="1.84" fill="#5e4f96" opacity="0.5"/>
<circle cx="119.56" cy="302.49" r="1.04" fill="#2a1d5c"/>
<circle cx="111.37" cy="346.17" r="1.83" fill="#5e4f96" opacity="0.5"/>
<circle cx="111.37" cy="346.17" r="1.03" fill="#2a1d5c"/>
<circle cx="104.39" cy="314.57" r="2.00" fill="#5e4f96" opacity="0.5"/>
<circle cx="104.39" cy="314.57" r="1.20" fill="#2a1d5c"/>
<circle cx="143.04" cy="315.75" r="1.84" fill="#5e4f96" opacity="0.5"/>
<circle cx="143.04" cy="315.75" r="1.04" fill="#2a1d5c"/>
<circle cx="143.73" cy="347.59" r="1.80" fill="#5e4f96" opacity="0.5"/>
<circle cx="143.73" cy="347.59" r="1.00" fill="#2a1d5c"/>
<circle cx="108.41" cy="319.00" r="1.69" fill="#5e4f96" opacity="0.5"/>
<circle cx="108.41" cy="319.00" r="0.89" fill="#2a1d5c"/>
<circle cx="122.04" cy="309.22" r="1.84" fill="#5e4f96" opacity="0.5"/>
<circle cx="122.04" cy="309.22" r="1.04" fill="#2a1d5c"/>
<circle cx="124.80" cy="318.67" r="1.95" fill="#5e4f96" opacity="0.5"/>
<circle cx="124.80" cy="318.67" r="1.15" fill="#2a1d5c"/>
<circle cx="103.71" cy="352.22" r="1.80" fill="#5e4f96" opacity="0.5"/>
<circle cx="103.71" cy="352.22" r="1.00" fill="#2a1d5c"/>
<circle cx="122.08" cy="302.69" r="1.55" fill="#5e4f96" opacity="0.5"/>
<circle cx="122.08" cy="302.69" r="0.75" fill="#2a1d5c"/>
<circle cx="144.62" cy="313.49" r="1.88" fill="#5e4f96" opacity="0.5"/>
<circle cx="144.62" cy="313.49" r="1.08" fill="#2a1d5c"/>
<circle cx="114.66" cy="357.06" r="1.54" fill="#5e4f96" opacity="0.5"/>
<circle cx="114.66" cy="357.06" r="0.74" fill="#2a1d5c"/>
<circle cx="113.04" cy="358.93" r="1.58" fill="#5e4f96" opacity="0.5"/>
<circle cx="113.04" cy="358.93" r="0.78" fill="#2a1d5c"/>
<circle cx="104.25" cy="354.49" r="1.08" fill="#7a7084" opacity="0.7"/>
<circle cx="92.55" cy="320.40" r="1.74" fill="#5e4f96" opacity="0.5"/>
<circle cx="92.55" cy="320.40" r="0.94" fill="#2a1d5c"/>
<circle cx="129.21" cy="316.65" r="2.01" fill="#5e4f96" opacity="0.5"/>
<circle cx="129.21" cy="316.65" r="1.21" fill="#2a1d5c"/>
<circle cx="136.63" cy="323.53" r="1.70" fill="#5e4f96" opacity="0.5"/>
<circle cx="136.63" cy="323.53" r="0.90" fill="#2a1d5c"/>
<circle cx="98.59" cy="350.40" r="1.80" fill="#5e4f96" opacity="0.5"/>
<circle cx="98.59" cy="350.40" r="1.00" fill="#2a1d5c"/>
<circle cx="139.72" cy="307.81" r="1.65" fill="#5e4f96" opacity="0.5"/>
<circle cx="139.72" cy="307.81" r="0.85" fill="#2a1d5c"/>
<circle cx="147.73" cy="336.49" r="2.03" fill="#5e4f96" opacity="0.5"/>
<circle cx="147.73" cy="336.49" r="1.23" fill="#2a1d5c"/>
<circle cx="105.15" cy="310.62" r="1.55" fill="#5e4f96" opacity="0.5"/>
<circle cx="105.15" cy="310.62" r="0.75" fill="#2a1d5c"/>
<circle cx="149.02" cy="346.75" r="1.05" fill="#7a7084" opacity="0.7"/>
<circle cx="141.55" cy="354.96" r="1.62" fill="#5e4f96" opacity="0.5"/>
<circle cx="141.55" cy="354.96" r="0.82" fill="#2a1d5c"/>
<circle cx="125.33" cy="310.36" r="1.69" fill="#5e4f96" opacity="0.5"/>
<circle cx="125.33" cy="310.36" r="0.89" fill="#2a1d5c"/>
<circle cx="150.97" cy="328.12" r="1.90" fill="#5e4f96" opacity="0.5"/>
<circle cx="150.97" cy="328.12" r="1.10" fill="#2a1d5c"/>
<circle cx="114.22" cy="303.82" r="1.87" fill="#5e4f96" opacity="0.5"/>
<circle cx="114.22" cy="303.82" r="1.07" fill="#2a1d5c"/>
<circle cx="141.88" cy="310.50" r="2.03" fill="#5e4f96" opacity="0.5"/>
<circle cx="141.88" cy="310.50" r="1.23" fill="#2a1d5c"/>
<circle cx="106.82" cy="315.48" r="1.73" fill="#5e4f96" opacity="0.5"/>
<circle cx="106.82" cy="315.48" r="0.93" fill="#2a1d5c"/>
<circle cx="111.18" cy="339.15" r="1.71" fill="#5e4f96" opacity="0.5"/>
<circle cx="111.18" cy="339.15" r="0.91" fill="#2a1d5c"/>
<circle cx="130.71" cy="345.84" r="2.03" fill="#5e4f96" opacity="0.5"/>
<circle cx="130.71" cy="345.84" r="1.23" fill="#2a1d5c"/>
<circle cx="152.24" cy="343.76" r="1.60" fill="#5e4f96" opacity="0.5"/>
<circle cx="152.24" cy="343.76" r="0.80" fill="#2a1d5c"/>
<circle cx="144.76" cy="341.55" r="1.52" fill="#5e4f96" opacity="0.5"/>
<circle cx="144.76" cy="341.55" r="0.72" fill="#2a1d5c"/>
<circle cx="144.23" cy="349.15" r="1.83" fill="#5e4f96" opacity="0.5"/>
<circle cx="144.23" cy="349.15" r="1.03" fill="#2a1d5c"/>
<circle cx="127.28" cy="357.53" r="1.67" fill="#5e4f96" opacity="0.5"/>
<circle cx="127.28" cy="357.53" r="0.87" fill="#2a1d5c"/>
<circle cx="92.77" cy="324.69" r="1.99" fill="#5e4f96" opacity="0.5"/>
<circle cx="92.77" cy="324.69" r="1.19" fill="#2a1d5c"/>
<circle cx="140.43" cy="323.72" r="1.77" fill="#5e4f96" opacity="0.5"/>
<circle cx="140.43" cy="323.72" r="0.97" fill="#2a1d5c"/>
<circle cx="124.31" cy="340.30" r="1.71" fill="#5e4f96" opacity="0.5"/>
<circle cx="124.31" cy="340.30" r="0.91" fill="#2a1d5c"/>
<circle cx="88.60" cy="327.81" r="1.63" fill="#5e4f96" opacity="0.5"/>
<circle cx="88.60" cy="327.81" r="0.83" fill="#2a1d5c"/>
<circle cx="146.85" cy="334.80" r="1.89" fill="#5e4f96" opacity="0.5"/>
<circle cx="146.85" cy="334.80" r="1.09" fill="#2a1d5c"/>
<circle cx="100.63" cy="317.30" r="1.98" fill="#5e4f96" opacity="0.5"/>
<circle cx="100.63" cy="317.30" r="1.18" fill="#2a1d5c"/>
<circle cx="95.17" cy="330.72" r="1.79" fill="#5e4f96" opacity="0.5"/>
<circle cx="95.17" cy="330.72" r="0.99" fill="#2a1d5c"/>
<circle cx="142.29" cy="357.91" r="1.95" fill="#5e4f96" opacity="0.5"/>
<circle cx="142.29" cy="357.91" r="1.15" fill="#2a1d5c"/>
<circle cx="138.66" cy="341.51" r="0.99" fill="#7a7084" opacity="0.7"/>
<circle cx="89.43" cy="339.40" r="1.67" fill="#5e4f96" opacity="0.5"/>
<circle cx="89.43" cy="339.40" r="0.87" fill="#2a1d5c"/>
<circle cx="128.41" cy="313.32" r="1.13" fill="#7a7084" opacity="0.7"/>
<circle cx="129.55" cy="356.03" r="1.13" fill="#7a7084" opacity="0.7"/>
<circle cx="112.30" cy="357.15" r="1.89" fill="#5e4f96" opacity="0.5"/>
<circle cx="112.30" cy="357.15" r="1.09" fill="#2a1d5c"/>
<circle cx="104.44" cy="353.77" r="2.03" fill="#5e4f96" opacity="0.5"/>
<circle cx="104.44" cy="353.77" r="1.23" fill="#2a1d5c"/>
<circle cx="136.77" cy="310.16" r="1.63" fill="#5e4f96" opacity="0.5"/>
<circle cx="136.77" cy="310.16" r="0.83" fill="#2a1d5c"/>
<circle cx="90.85" cy="320.82" r="1.61" fill="#5e4f96" opacity="0.5"/>
<circle cx="90.85" cy="320.82" r="0.81" fill="#2a1d5c"/>
<circle cx="108.87" cy="321.84" r="1.66" fill="#5e4f96" opacity="0.5"/>
<circle cx="108.87" cy="321.84" r="0.86" fill="#2a1d5c"/>
<circle cx="111.49" cy="350.35" r="1.61" fill="#5e4f96" opacity="0.5"/>
<circle cx="111.49" cy="350.35" r="0.81" fill="#2a1d5c"/>
<circle cx="120.57" cy="315.11" r="1.90" fill="#5e4f96" opacity="0.5"/>
<circle cx="120.57" cy="315.11" r="1.10" fill="#2a1d5c"/>
<circle cx="109.86" cy="354.45" r="1.07" fill="#7a7084" opacity="0.7"/>
<circle cx="119.06" cy="320.23" r="1.83" fill="#5e4f96" opacity="0.5"/>
<circle cx="119.06" cy="320.23" r="1.03" fill="#2a1d5c"/>
<circle cx="145.19" cy="346.24" r="1.54" fill="#5e4f96" opacity="0.5"/>
<circle cx="145.19" cy="346.24" r="0.74" fill="#2a1d5c"/>
</g>
<clipPath id="clip12"><rect x="172.20" y="294.70" width="85.10" height="78.80"/></clipPath>
<g clip-path="url(#clip12)">
<rect x="172.20" y="294.70" width="85.10" height="78.80" fill="#aaa99b"/>
<ellipse cx="214.75" cy="333.30" rx="40.95" ry="37.40" fill="#b4adb4" stroke="#9e989e" stroke-width="0.8"/>
<ellipse cx="214.75" cy="333.30" rx="39.35" ry="35.80" fill="none" stroke="#c0b9c1" stroke-width="1.2"/>
<ellipse cx="214.75" cy="333.30" rx="36.95" ry="33.40" fill="#b5aeb4" stroke="#a69ea7" stroke-width="0.7"/>
<ellipse cx="217.75" cy="336.30" rx="20.48" ry="14.96" fill="#bdb7bd" opacity="0.4"/>
<path d="M197.95,366.11A39.75,36.20 0 0 1 176.35,342.67" fill="none" stroke="#dcd8dc" stroke-width="1.6" opacity="0.85"/>
<circle cx="186.45" cy="337.42" r="0.80" fill="#7a7084" opacity="0.7"/>
<circle cx="201.68" cy="345.13" r="1.83" fill="#5e4f96" opacity="0.5"/>
<circle cx="201.68" cy="345.13" r="1.03" fill="#2a1d5c"/>
<circle cx="186.88" cy="323.67" r="1.16" fill="#7a7084" opacity="0.7"/>
<circle cx="244.85" cy="343.82" r="1.72" fill="#5e4f96" opacity="0.5"/>
<circle cx="244.85" cy="343.82" r="0.92" fill="#2a1d5c"/>
<circle cx="233.68" cy="307.25" r="1.55" fill="#5e4f96" opacity="0.5"/>
<circle cx="233.68" cy="307.25" r="0.75" fill="#2a1d5c"/>
<circle cx="244.33" cy="331.14" r="0.93" fill="#7a7084" opacity="0.7"/>
<circle cx="204.42" cy="324.38" r="0.87" fill="#7a7084" opacity="0.7"/>
<circle cx="223.73" cy="314.80" r="1.76" fill="#5e4f96" opacity="0.5"/>
<circle cx="223.73" cy="314.80" r="0.96" fill="#2a1d5c"/>
<circle cx="210.13" cy="337.00" r="2.04" fill="#5e4f96" opacity="0.5"/>
<circle cx="210.13" cy="337.00" r="1.24" fill="#2a1d5c"/>
<circle cx="203.85" cy="316.99" r="1.87" fill="#5e4f96" opacity="0.5"/>
<circle cx="203.85" cy="316.99" r="1.07" fill="#2a1d5c"/>
<circle cx="227.69" cy="343.44" r="1.95" fill="#5e4f96" opacity="0.5"/>
<circle cx="227.69" cy="343.44" r="1.15" fill="#2a1d5c"/>
<circle cx="208.82" cy="333.30" r="1.79" fill="#5e4f96" opacity="0.5"/>
<circle cx="208.82" cy="333.30" r="0.99" fill="#2a1d5c"/>
<circle cx="218.77" cy="353.84" r="1.56" fill="#5e4f96" opacity="0.5"/>
<circle cx="218.77" cy="353.84" r="0.76" fill="#2a1d5c"/>
<circle cx="200.56" cy="329.14" r="0.91" fill="#7a7084" opacity="0.7"/>
<circle cx="198.00" cy="355.80" r="1.66" fill="#5e4f96" opacity="0.5"/>
<circle cx="198.00" cy="355.80" r="0.86" fill="#2a1d5c"/>
<circle cx="180.51" cy="337.94" r="1.59" fill="#5e4f96" opacity="0.5"/>
<circle cx="180.51" cy="337.94" r="0.79" fill="#2a1d5c"/>
<circle cx="243.98" cy="319.70" r="1.50" fill="#5e4f96" opacity="0.5"/>
<circle cx="243.98" cy="319.70" r="0.70" fill="#2a1d5c"/>
<circle cx="211.20" cy="361.13" r="1.50" fill="#5e4f96" opacity="0.5"/>
<circle cx="211.20" cy="361.13" r="0.70" fill="#2a1d5c"/>
<circle cx="241.69" cy="339.55" r="1.78" fill="#5e4f96" opacity="0.5"/>
<circle cx="241.69" cy="339.55" r="0.98" fill="#2a1d5c"/>
<circle cx="234.60" cy="336.01" r="1.85" fill="#5e4f96" opacity="0.5"/>
<circle cx="234.60" cy="336.01" r="1.05" fill="#2a1d5c"/>
<circle cx="218.05" cy="356.28" r="1.64" fill="#5e4f96" opacity="0.5"/>
<circle cx="218.05" cy="356.28" r="0.84" fill="#2a1d5c"/>
<circle cx="241.55" cy="324.88" r="1.65" fill="#5e4f96" opacity="0.5"/>
<circle cx="241.55" cy="324.88" r="0.85" fill="#2a1d5c"/>
<circle cx="238.57" cy="325.39" r="1.62" fill="#5e4f96" opacity="0.5"/>
<circle cx="238.57" cy="325.39" r="0.82" fill="#2a1d5c"/>
<circle cx="210.85" cy="349.02" r="1.57" fill="#5e4f96" opacity="0.5"/>
<circle cx="210.85" cy="349.02" r="0.77" fill="#2a1d5c"/>
<circle cx="237.28" cy="315.70" r="1.81" fill="#5e4f96" opacity="0.5"/>
<circle cx="237.28" cy="315.70" r="1.01" fill="#2a1d5c"/>
<circle cx="190.73" cy="311.69" r="1.73" fill="#5e4f96" opacity="0.5"/>
<circle cx="190.73" cy="311.69" r="0.93" fill="#2a1d5c"/>
<circle cx="186.24" cy="317.32" r="1.69" fill="#5e4f96" opacity="0.5"/>
<circle cx="186.24" cy="317.32" r="0.89" fill="#2a1d5c"/>
<circle cx="194.20" cy="353.43" r="1.08" fill="#7a7084" opacity="0.7"/>
<circle cx="240.73" cy="317.10" r="1.79" fill="#5e4f96" opacity="0.5"/>
<circle cx="240.73" cy="317.10" r="0.99" fill="#2a1d5c"/>
<circle cx="221.80" cy="307.92" r="2.01" fill="#5e4f96" opacity="0.5"/>
<circle cx="221.80" cy="307.92" r="1.21" fill="#2a1d5c"/>
<circle cx="205.04" cy="311.51" r="1.01" fill="#7a7084" opacity="0.7"/>
<circle cx="205.74" cy="307.93" r="1.88" fill="#5e4f96" opacity="0.5"/>
<circle cx="205.74" cy="307.93" r="1.08" fill="#2a1d5c"/>
<circle cx="221.44" cy="340.77" r="1.92" fill="#5e4f96" opacity="0.5"/>
<circle cx="221.44" cy="340.77" r="1.12" fill="#2a1d5c"/>
<circle cx="196.32" cy="307.31" r="1.00" fill="#7a7084" opacity="0.7"/>
<circle cx="200.70" cy="337.98" r="1.63" fill="#5e4f96" opacity="0.5"/>
<circle cx="200.70" cy="337.98" r="0.83" fill="#2a1d5c"/>
<circle cx="201.16" cy="356.49" r="1.61" fill="#5e4f96" opacity="0.5"/>
<circle cx="201.16" cy="356.49" r="0.81" fill="#2a1d5c"/>
<circle cx="199.62" cy="339.47" r="1.88" fill="#5e4f96" opacity="0.5"/>
<circle cx="199.62" cy="339.47" r="1.08" fill="#2a1d5c"/>
<circle cx="227.36" cy="351.84" r="1.64" fill="#5e4f96" opacity="0.5"/>
<circle cx="227.36" cy="351.84" r="0.84" fill="#2a1d5c"/>
<circle cx="183.11" cy="340.70" r="1.80" fill="#5e4f96" opacity="0.5"/>
<circle cx="183.11" cy="340.70" r="1.00" fill="#2a1d5c"/>
<circle cx="216.33" cy="313.29" r="2.03" fill="#5e4f96" opacity="0.5"/>
<circle cx="216.33" cy="313.29" r="1.23" fill="#2a1d5c"/>
<circle cx="187.23" cy="324.55" r="1.68" fill="#5e4f96" opacity="0.5"/>
<circle cx="187.23" cy="324.55" r="0.88" fill="#2a1d5c"/>
<circle cx="193.51" cy="333.31" r="0.89" fill="#7a7084" opacity="0.7"/>
<circle cx="182.61" cy="325.01" r="2.01" fill="#5e4f96" opacity="0.5"/>
<circle cx="182.61" cy="325.01" r="1.21" fill="#2a1d5c"/>
<circle cx="196.81" cy="321.72" r="1.68" fill="#5e4f96" opacity="0.5"/>
<circle cx="196.81" cy="321.72" r="0.88" fill="#2a1d5c"/>
<circle cx="234.66" cy="351.46" r="1.93" fill="#5e4f96" opacity="0.5"/>
<circle cx="234.66" cy="351.46" r="1.13" fill="#2a1d5c"/>
<circle cx="189.59" cy="347.23" r="1.71" fill="#5e4f96" opacity="0.5"/>
<circle cx="189.59" cy="347.23" r="0.91" fill="#2a1d5c"/>
<circle cx="192.52" cy="347.96" r="2.03" fill="#5e4f96" opacity="0.5"/>
<circle cx="192.52" cy="347.96" r="1.23" fill="#2a1d5c"/>
<circle cx="206.70" cy="332.25" r="1.95" fill="#5e4f96" opacity="0.5"/>
<circle cx="206.70" cy="332.25" r="1.15" fill="#2a1d5c"/>
<circle cx="195.61" cy="354.51" r="1.15" fill="#7a7084" opacity="0.7"/>
<circle cx="222.85" cy="320.58" r="0.92" fill="#7a7084" opacity="0.7"/>
<circle cx="247.20" cy="335.69" r="1.60" fill="#5e4f96" opacity="0.5"/>
<circle cx="247.20" cy="335.69" r="0.80" fill="#2a1d5c"/>
<circle cx="222.70" cy="349.62" r="1.56" fill="#5e4f96" opacity="0.5"/>
<circle cx="222.70" cy="349.62" r="0.76" fill="#2a1d5c"/>
<circle cx="204.47" cy="311.85" r="1.86" fill="#5e4f96" opacity="0.5"/>
<circle cx="204.47" cy="311.85" r="1.06" fill="#2a1d5c"/>
<circle cx="222.62" cy="311.76" r="1.85" fill="#5e4f96" opacity="0.5"/>
<circle cx="222.62" cy="311.76" r="1.05" fill="#2a1d5c"/>
<circle cx="197.34" cy="346.55" r="1.65" fill="#5e4f96" opacity="0.5"/>
<circle cx="197.34" cy="346.55" r="0.85" fill="#2a1d5c"/>
<circle cx="236.83" cy="323.13" r="2.03" fill="#5e4f96" opacity="0.5"/>
<circle cx="236.83" cy="323.13" r="1.23" fill="#2a1d5c"/>
<circle cx="205.24" cy="314.30" r="1.91" fill="#5e4f96" opacity="0.5"/>
<circle cx="205.24" cy="314.30" r="1.11" fill="#2a1d5c"/>
<circle cx="228.86" cy="312.97" r="0.82" fill="#7a7084" opacity="0.7"/>
<circle cx="246.96" cy="334.84" r="2.03" fill="#5e4f96" opacity="0.5"/>
<circle cx="246.96" cy="334.84" r="1.23" fill="#2a1d5c"/>
<circle cx="244.37" cy="326.53" r="0.89" fill="#7a7084" opacity="0.7"/>
<circle cx="244.23" cy="319.98" r="1.80" fill="#5e4f96" opacity="0.5"/>
<circle cx="244.23" cy="319.98" r="1.00" fill="#2a1d5c"/>
<circle cx="202.08" cy="359.32" r="2.04" fill="#5e4f96" opacity="0.5"/>
<circle cx="202.08" cy="359.32" r="1.24" fill="#2a1d5c"/>
<circle cx="218.01" cy="302.61" r="2.01" fill="#5e4f96" opacity="0.5"/>
<circle cx="218.01" cy="302.61" r="1.21" fill="#2a1d5c"/>
<circle cx="192.30" cy="318.55" r="1.90" fill="#5e4f96" opacity="0.5"/>
<circle cx="192.30" cy="318.55" r="1.10" fill="#2a1d5c"/>
<circle cx="228.86" cy="308.62" r="1.97" fill="#5e4f96" opacity="0.5"/>
<circle cx="228.86" cy="308.62" r="1.17" fill="#2a1d5c"/>
<circle cx="246.34" cy="331.43" r="1.70" fill="#5e4f96" opacity="0.5"/>
<circle cx="246.34" cy="331.43" r="0.90" fill="#2a1d5c"/>
<circle cx="217.43" cy="352.96" r="1.02" fill="#7a7084" opacity="0.7"/>
<circle cx="243.06" cy="325.40" r="1.09" fill="#7a7084" opacity="0.7"/>
<circle cx="204.81" cy="323.52" r="1.82" fill="#5e4f96" opacity="0.5"/>
<circle cx="204.81" cy="323.52" r="1.02" fill="#2a1d5c"/>
<circle cx="200.54" cy="345.59" r="1.68" fill="#5e4f96" opacity="0.5"/>
<circle cx="200.54" cy="345.59" r="0.88" fill="#2a1d5c"/>
<circle cx="185.30" cy="332.89" r="1.68" fill="#5e4f96" opacity="0.5"/>
<circle cx="185.30" cy="332.89" r="0.88" fill="#2a1d5c"/>
<circle cx="200.71" cy="347.29" r="1.68" fill="#5e4f96" opacity="0.5"/>
<circle cx="200.71" cy="347.29" r="0.88" fill="#2a1d5c"/>
<circle cx="202.52" cy="316.49" r="1.54" fill="#5e4f96" opacity="0.5"/>
<circle cx="202.52" cy="316.49" r="0.74" fill="#2a1d5c"/>
<circle cx="198.91" cy="306.67" r="1.87" fill="#5e4f96" opacity="0.5"/>
<circle cx="198.91" cy="306.67" r="1.07" fill="#2a1d5c"/>
<circle cx="230.73" cy="360.18" r="1.61" fill="#5e4f96" opacity="0.5"/>
<circle cx="230.73" cy="360.18" r="0.81" fill="#2a1d5c"/>
<circle cx="196.50" cy="313.87" r="2.03" fill="#5e4f96" opacity="0.5"/>
<circle cx="196.50" cy="313.87" r="1.23" fill="#2a1d5c"/>
<circle cx="181.68" cy="341.27" r="1.70" fill="#5e4f96" opacity="0.5"/>
<circle cx="181.68" cy="341.27" r="0.90" fill="#2a1d5c"/>
<circle cx="208.08" cy="306.26" r="1.78" fill="#5e4f96" opacity="0.5"/>
<circle cx="208.08" cy="306.26" r="0.98" fill="#2a1d5c"/>
<circle cx="200.23" cy="311.95" r="1.67" fill="#5e4f96" opacity="0.5"/>
<circle cx="200.23" cy="311.95" r="0.87" fill="#2a1d5c"/>
<circle cx="247.71" cy="337.95" r="2.03" fill="#5e4f96" opacity="0.5"/>
<circle cx="247.71" cy="337.95" r="1.23" fill="#2a1d5c"/>
<circle cx="226.01" cy="326.15" r="1.67" fill="#5e4f96" opacity="0.5"/>
<circle cx="226.01" cy="326.15" r="0.87" fill="#2a1d5c"/>
<circle cx="213.26" cy="356.74" r="0.92" fill="#7a7084" opacity="0.7"/>
<circle cx="221.46" cy="342.65" r="1.77" fill="#5e4f96" opacity="0.5"/>
<circle cx="221.46" cy="342.65" r="0.97" fill="#2a1d5c"/>
<circle cx="192.42" cy="318.41" r="2.00" fill="#5e4f96" opacity="0.5"/>
<circle cx="192.42" cy="318.41" r="1.20" fill="#2a1d5c"/>
<circle cx="238.13" cy="323.66" r="1.16" fill="#7a7084" opacity="0.7"/>
<circle cx="217.28" cy="309.71" r="1.79" fill="#5e4f96" opacity="0.5"/>
<circle cx="217.28" cy="309.71" r="0.99" fill="#2a1d5c"/>
<circle cx="224.45" cy="327.47" r="1.14" fill="#7a7084" opacity="0.7"/>
<circle cx="229.84" cy="311.61" r="1.00" fill="#7a7084" opacity="0.7"/>
<circle cx="192.85" cy="357.44" r="1.81" fill="#5e4f96" opacity="0.5"/>
<circle cx="192.85" cy="357.44" r="1.01" fill="#2a1d5c"/>
<circle cx="233.09" cy="308.03" r="1.97" fill="#5e4f96" opacity="0.5"/>
<circle cx="233.09" cy="308.03" r="1.17" fill="#2a1d5c"/>
<circle cx="191.53" cy="354.91" r="1.84" fill="#5e4f96" opacity="0.5"/>
<circle cx="191.53" cy="354.91" r="1.04" fill="#2a1d5c"/>
<circle cx="231.30" cy="332.40" r="1.91" fill="#5e4f96" opacity="0.5"/>
<circle cx="231.30" cy="332.40" r="1.11" fill="#2a1d5c"/>
<circle cx="183.94" cy="329.03" r="1.86" fill="#5e4f96" opacity="0.5"/>
<circle cx="183.94" cy="329.03" r="1.06" fill="#2a1d5c"/>
<circle cx="197.29" cy="351.57" r="1.19" fill="#7a7084" opacity="0.7"/>
<circle cx="236.95" cy="357.75" r="1.60" fill="#5e4f96" opacity="0.5"/>
<circle cx="236.95" cy="357.75" r="0.80" fill="#2a1d5c"/>
<circle cx="229.93" cy="307.07" r="1.72" fill="#5e4f96" opacity="0.5"/>
<circle cx="229.93" cy="307.07" r="0.92" fill="#2a1d5c"/>
<circle cx="204.76" cy="318.93" r="1.91" fill="#5e4f96" opacity="0.5"/>
<circle cx="204.76" cy="318.93" r="1.11" fill="#2a1d5c"/>
<circle cx="229.52" cy="306.71" r="1.59" fill="#5e4f96" opacity="0.5"/>
<circle cx="229.52" cy="306.71" r="0.79" fill="#2a1d5c"/>
<circle cx="242.40" cy="336.57" r="1.00" fill="#7a7084" opacity="0.7"/>
<circle cx="197.40" cy="342.58" r="1.79" fill="#5e4f96" opacity="0.5"/>
<circle cx="197.40" cy="342.58" r="0.99" fill="#2a1d5c"/>
<circle cx="248.74" cy="330.84" r="2.02" fill="#5e4f96" opacity="0.5"/>
<circle cx="248.74" cy="330.84" r="1.22" fill="#2a1d5c"/>
<circle cx="233.40" cy="339.67" r="1.89" fill="#5e4f96" opacity="0.5"/>
<circle cx="233.40" cy="339.67" r="1.09" fill="#2a1d5c"/>
<circle cx="218.23" cy="343.98" r="0.87" fill="#7a7084" opacity="0.7"/>
<circle cx="185.72" cy="345.46" r="1.93" fill="#5e4f96" opacity="0.5"/>
<circle cx="185.72" cy="345.46" r="1.13" fill="#2a1d5c"/>
<circle cx="183.58" cy="345.00" r="1.18" fill="#7a7084" opacity="0.7"/>
<circle cx="235.84" cy="315.69" r="1.62" fill="#5e4f96" opacity="0.5"/>
<circle cx="235.84" cy="315.69" r="0.82" fill="#2a1d5c"/>
<circle cx="224.63" cy="337.32" r="2.01" fill="#5e4f96" opacity="0.5"/>
<circle cx="224.63" cy="337.32" r="1.21" fill="#2a1d5c"/>
<circle cx="185.85" cy="330.94" r="1.89" fill="#5e4f96" opacity="0.5"/>
<circle cx="185.85" cy="330.94" r="1.09" fill="#2a1d5c"/>
<circle cx="247.12" cy="330.51" r="1.59" fill="#5e4f96" opacity="0.5"/>
<circle cx="247.12" cy="330.51" r="0.79" fill="#2a1d5c"/>
<circle cx="187.69" cy="337.71" r="1.60" fill="#5e4f96" opacity="0.5"/>
<circle cx="187.69" cy="337.71" r="0.80" fill="#2a1d5c"/>
<circle cx="200.36" cy="320.44" r="1.78" fill="#5e4f96" opacity="0.5"/>
<circle cx="200.36" cy="320.44" r="0.98" fill="#2a1d5c"/>
<circle cx="182.73" cy="346.04" r="1.86" fill="#5e4f96" opacity="0.5"/>
<circle cx="182.73" cy="346.04" r="1.06" fill="#2a1d5c"/>
<circle cx="206.87" cy="323.49" r="0.93" fill="#7a7084" opacity="0.7"/>
<circle cx="186.82" cy="317.94" r="1.99" fill="#5e4f96" opacity="0.5"/>
<circle cx="186.82" cy="317.94" r="1.19" fill="#2a1d5c"/>
<circle cx="220.43" cy="341.29" r="1.88" fill="#5e4f96" opacity="0.5"/>
<circle cx="220.43" cy="341.29" r="1.08" fill="#2a1d5c"/>
<circle cx="201.96" cy="329.04" r="2.00" fill="#5e4f96" opacity="0.5"/>
<circle cx="201.96" cy="329.04" r="1.20" fill="#2a1d5c"/>
<circle cx="226.00" cy="346.61" r="1.97" fill="#5e4f96" opacity="0.5"/>
<circle cx="226.00" cy="346.61" r="1.17" fill="#2a1d5c"/>
<circle cx="212.85" cy="358.69" r="1.98" fill="#5e4f96" opacity="0.5"/>
<circle cx="212.85" cy="358.69" r="1.18" fill="#2a1d5c"/>
<circle cx="198.45" cy="306.68" r="0.88" fill="#7a7084" opacity="0.7"/>
<circle cx="190.76" cy="342.66" r="1.50" fill="#5e4f96" opacity="0.5"/>
<circle cx="190.76" cy="342.66" r="0.70" fill="#2a1d5c"/>
<circle cx="212.03" cy="308.55" r="2.01" fill="#5e4f96" opacity="0.5"/>
<circle cx="212.03" cy="308.55" r="1.21" fill="#2a1d5c"/>
<circle cx="229.34" cy="312.54" r="1.94" fill="#5e4f96" opacity="0.5"/>
<circle cx="229.34" cy="312.54" r="1.14" fill="#2a1d5c"/>
<circle cx="219.62" cy="330.73" r="1.58" fill="#5e4f96" opacity="0.5"/>
<circle cx="219.62" cy="330.73" r="0.78" fill="#2a1d5c"/>
<circle cx="230.73" cy="341.22" r="1.90" fill="#5e4f96" opacity="0.5"/>
<circle cx="230.73" cy="341.22" r="1.10" fill="#2a1d5c"/>
<circle cx="237.77" cy="352.54" r="1.98" fill="#5e4f96" opacity="0.5"/>
<circle cx="237.77" cy="352.54" r="1.18" fill="#2a1d5c"/>
<circle cx="182.46" cy="345.68" r="2.00" fill="#5e4f96" opacity="0.5"/>
<circle cx="182.46" cy="345.68" r="1.20" fill="#2a1d5c"/>
<circle cx="247.11" cy="333.04" r="1.64" fill="#5e4f96" opacity="0.5"/>
<circle cx="247.11" cy="333.04" r="0.84" fill="#2a1d5c"/>
<circle cx="217.77" cy="309.67" r="0.89" fill="#7a7084" opacity="0.7"/>
<circle cx="241.33" cy="322.51" r="1.72" fill="#5e4f96" opacity="0.5"/>
<circle cx="241.33" cy="322.51" r="0.92" fill="#2a1d5c"/>
<circle cx="205.27" cy="308.94" r="1.16" fill="#7a7084" opacity="0.7"/>
<circle cx="227.77" cy="351.06" r="1.95" fill="#5e4f96" opacity="0.5"/>
<circle cx="227.77" cy="351.06" r="1.15" fill="#2a1d5c"/>
<circle cx="207.39" cy="349.40" r="1.15" fill="#7a7084" opacity="0.7"/>
<circle cx="205.91" cy="351.63" r="1.60" fill="#5e4f96" opacity="0.5"/>
<circle cx="205.91" cy="351.63" r="0.80" fill="#2a1d5c"/>
<circle cx="235.62" cy="354.78" r="1.50" fill="#5e4f96" opacity="0.5"/>
<circle cx="235.62" cy="354.78" r="0.70" fill="#2a1d5c"/>
<circle cx="194.26" cy="337.77" r="1.56" fill="#5e4f96" opacity="0.5"/>
<circle cx="194.26" cy="337.77" r="0.76" fill="#2a1d5c"/>
<circle cx="190.93" cy="344.46" r="1.90" fill="#5e4f96" opacity="0.5"/>
<circle cx="190.93" cy="344.46" r="1.10" fill="#2a1d5c"/>
<circle cx="246.47" cy="330.23" r="1.56" fill="#5e4f96" opacity="0.5"/>
<circle cx="246.47" cy="330.23" r="0.76" fill="#2a1d5c"/>
<circle cx="243.86" cy="330.68" r="1.12" fill="#7a7084" opacity="0.7"/>
<circle cx="180.57" cy="326.33" r="1.55" fill="#5e4f96" opacity="0.5"/>
<circle cx="180.57" cy="326.33" r="0.75" fill="#2a1d5c"/>
<circle cx="241.50" cy="346.77" r="1.58" fill="#5e4f96" opacity="0.5"/>
<circle cx="241.50" cy="346.77" r="0.78" fill="#2a1d5c"/>
<circle cx="225.62" cy="353.55" r="0.86" fill="#7a7084" opacity="0.7"/>
<circle cx="186.37" cy="342.55" r="1.09" fill="#7a7084" opacity="0.7"/>
<circle cx="218.07" cy="306.66" r="0.97" fill="#7a7084" opacity="0.7"/>
<circle cx="206.57" cy="337.68" r="1.19" fill="#7a7084" opacity="0.7"/>
<circle cx="199.31" cy="305.65" r="1.93" fill="#5e4f96" opacity="0.5"/>
<circle cx="199.31" cy="305.65" r="1.13" fill="#2a1d5c"/>
<circle cx="189.80" cy="320.92" r="1.82" fill="#5e4f96" opacity="0.5"/>
<circle cx="189.80" cy="320.92" r="1.02" fill="#2a1d5c"/>
<circle cx="193.24" cy="327.33" r="2.02" fill="#5e4f96" opacity="0.5"/>
<circle cx="193.24" cy="327.33" r="1.22" fill="#2a1d5c"/>
<circle cx="217.66" cy="315.16" r="1.76" fill="#5e4f96" opacity="0.5"/>
<circle cx="217.66" cy="315.16" r="0.96" fill="#2a1d5c"/>
<circle cx="188.15" cy="329.34" r="1.05" fill="#7a7084" opacity="0.7"/>
<circle cx="227.42" cy="354.26" r="1.62" fill="#5e4f96" opacity="0.5"/>
<circle cx="227.42" cy="354.26" r="0.82" fill="#2a1d5c"/>
<circle cx="196.17" cy="321.57" r="1.07" fill="#7a7084" opacity="0.7"/>
<circle cx="195.03" cy="359.50" r="2.01" fill="#5e4f96" opacity="0.5"/>
<circle cx="195.03" cy="359.50" r="1.21" fill="#2a1d5c"/>
<circle cx="219.88" cy="332.83" r="1.18" fill="#7a7084" opacity="0.7"/>
<circle cx="219.07" cy="317.62" r="1.75" fill="#5e4f96" opacity="0.5"/>
<circle cx="219.07" cy="317.62" r="0.95" fill="#2a1d5c"/>
<circle cx="198.06" cy="317.87" r="1.50" fill="#5e4f96" opacity="0.5"/>
<circle cx="198.06" cy="317.87" r="0.70" fill="#2a1d5c"/>
<circle cx="195.71" cy="312.74" r="1.80" fill="#5e4f96" opacity="0.5"/>
<circle cx="195.71" cy="312.74" r="1.00" fill="#2a1d5c"/>
<circle cx="224.34" cy="344.46" r="1.16" fill="#7a7084" opacity="0.7"/>
<circle cx="230.38" cy="347.16" r="0.98" fill="#7a7084" opacity="0.7"/>
<circle cx="222.56" cy="310.82" r="1.56" fill="#5e4f96" opacity="0.5"/>
<circle cx="222.56" cy="310.82" r="0.76" fill="#2a1d5c"/>
<circle cx="199.72" cy="308.82" r="1.61" fill="#5e4f96" opacity="0.5"/>
<circle cx="199.72" cy="308.82" r="0.81" fill="#2a1d5c"/>
<circle cx="215.77" cy="360.65" r="1.93" fill="#5e4f96" opacity="0.5"/>
<circle cx="215.77" cy="360.65" r="1.13" fill="#2a1d5c"/>
<circle cx="234.01" cy="311.49" r="1.55" fill="#5e4f96" opacity="0.5"/>
<circle cx="234.01" cy="311.49" r="0.75" fill="#2a1d5c"/>
<circle cx="193.96" cy="323.87" r="1.57" fill="#5e4f96" opacity="0.5"/>
<circle cx="193.96" cy="323.87" r="0.77" fill="#2a1d5c"/>
<circle cx="190.79" cy="352.76" r="1.53" fill="#5e4f96" opacity="0.5"/>
<circle cx="190.79" cy="352.76" r="0.73" fill="#2a1d5c"/>
<circle cx="218.00" cy="349.49" r="1.18" fill="#7a7084" opacity="0.7"/>
<circle cx="199.87" cy="357.28" r="1.95" fill="#5e4f96" opacity="0.5"/>
<circle cx="199.87" cy="357.28" r="1.15" fill="#2a1d5c"/>
<circle cx="244.55" cy="349.58" r="1.86" fill="#5e4f96" opacity="0.5"/>
<circle cx="244.55" cy="349.58" r="1.06" fill="#2a1d5c"/>
<circle cx="202.54" cy="362.88" r="1.75" fill="#5e4f96" opacity="0.5"/>
<circle cx="202.54" cy="362.88" r="0.95" fill="#2a1d5c"/>
<circle cx="195.17" cy="320.14" r="1.10" fill="#7a7084" opacity="0.7"/>
<circle cx="227.07" cy="355.17" r="1.84" fill="#5e4f96" opacity="0.5"/>
<circle cx="227.07" cy="355.17" r="1.04" fill="#2a1d5c"/>
<circle cx="228.66" cy="359.24" r="1.94" fill="#5e4f96" opacity="0.5"/>
<circle cx="228.66" cy="359.24" r="1.14" fill="#2a1d5c"/>
<circle cx="226.05" cy="331.84" r="1.97" fill="#5e4f96" opacity="0.5"/>
<circle cx="226.05" cy="331.84" r="1.17" fill="#2a1d5c"/>
<circle cx="187.74" cy="351.55" r="1.92" fill="#5e4f96" opacity="0.5"/>
<circle cx="187.74" cy="351.55" r="1.12" fill="#2a1d5c"/>
<circle cx="203.22" cy="311.41" r="1.72" fill="#5e4f96" opacity="0.5"/>
<circle cx="203.22" cy="311.41" r="0.92" fill="#2a1d5c"/>
<circle cx="205.37" cy="358.97" r="1.08" fill="#7a7084" opacity="0.7"/>
</g>
<clipPath id="clip13"><rect x="264.90" y="294.70" width="83.50" height="78.80"/></clipPath>
<g clip-path="url(#clip13)">
<rect x="264.90" y="294.70" width="83.50" height="78.80" fill="#aaa99b"/>
<ellipse cx="306.65" cy="333.30" rx="40.15" ry="37.40" fill="#b4adb4" stroke="#9e989e" stroke-width="0.8"/>
<ellipse cx="306.65" cy="333.30" rx="38.55" ry="35.80" fill="none" stroke="#c0b9c1" stroke-width="1.2"/>
<ellipse cx="306.65" cy="333.30" rx="36.15" ry="33.40" fill="#b5aeb4" stroke="#a69ea7" stroke-width="0.7"/>
<ellipse cx="309.65" cy="336.30" rx="20.07" ry="14.96" fill="#bdb7bd" opacity="0.4"/>
<path d="M290.19,366.11A38.95,36.20 0 0 1 269.03,342.67" fill="none" stroke="#dcd8dc" stroke-width="1.6" opacity="0.85"/>
<circle cx="305.03" cy="359.68" r="1.60" fill="#5e4f96" opacity="0.5"/>
<circle cx="305.03" cy="359.68" r="0.80" fill="#2a1d5c"/>
<circle cx="310.55" cy="362.63" r="1.01" fill="#7a7084" opacity="0.7"/>
<circle cx="310.87" cy="350.18" r="1.83" fill="#5e4f96" opacity="0.5"/>
<circle cx="310.87" cy="350.18" r="1.03" fill="#2a1d5c"/>
<circle cx="339.85" cy="336.09" r="1.94" fill="#5e4f96" opacity="0.5"/>
<circle cx="339.85" cy="336.09" r="1.14" fill="#2a1d5c"/>
<circle cx="320.43" cy="308.87" r="1.64" fill="#5e4f96" opacity="0.5"/>
<circle cx="320.43" cy="308.87" r="0.84" fill="#2a1d5c"/>
<circle cx="320.82" cy="315.28" r="1.74" fill="#5e4f96" opacity="0.5"/>
<circle cx="320.82" cy="315.28" r="0.94" fill="#2a1d5c"/>
<circle cx="291.74" cy="349.06" r="1.13" fill="#7a7084" opacity="0.7"/>
<circle cx="316.90" cy="303.06" r="1.91" fill="#5e4f96" opacity="0.5"/>
<circle cx="316.90" cy="303.06" r="1.11" fill="#2a1d5c"/>
<circle cx="325.48" cy="352.98" r="0.88" fill="#7a7084" opacity="0.7"/>
<circle cx="289.42" cy="331.02" r="1.72" fill="#5e4f96" opacity="0.5"/>
<circle cx="289.42" cy="331.02" r="0.92" fill="#2a1d5c"/>
<circle cx="325.19" cy="351.70" r="0.95" fill="#7a7084" opacity="0.7"/>
<circle cx="331.65" cy="344.74" r="1.90" fill="#5e4f96" opacity="0.5"/>
<circle cx="331.65" cy="344.74" r="1.10" fill="#2a1d5c"/>
<circle cx="336.51" cy="320.96" r="1.85" fill="#5e4f96" opacity="0.5"/>
<circle cx="336.51" cy="320.96" r="1.05" fill="#2a1d5c"/>
<circle cx="318.59" cy="350.61" r="1.94" fill="#5e4f96" opacity="0.5"/>
<circle cx="318.59" cy="350.61" r="1.14" fill="#2a1d5c"/>
<circle cx="315.94" cy="361.51" r="1.58" fill="#5e4f96" opacity="0.5"/>
<circle cx="315.94" cy="361.51" r="0.78" fill="#2a1d5c"/>
<circle cx="333.08" cy="328.85" r="1.84" fill="#5e4f96" opacity="0.5"/>
<circle cx="333.08" cy="328.85" r="1.04" fill="#2a1d5c"/>
<circle cx="283.42" cy="321.36" r="1.69" fill="#5e4f96" opacity="0.5"/>
<circle cx="283.42" cy="321.36" r="0.89" fill="#2a1d5c"/>
<circle cx="302.71" cy="345.72" r="0.89" fill="#7a7084" opacity="0.7"/>
<circle cx="331.81" cy="344.08" r="1.52" fill="#5e4f96" opacity="0.5"/>
<circle cx="331.81" cy="344.08" r="0.72" fill="#2a1d5c"/>
<circle cx="283.44" cy="341.84" r="1.57" fill="#5e4f96" opacity="0.5"/>
<circle cx="283.44" cy="341.84" r="0.77" fill="#2a1d5c"/>
<circle cx="300.95" cy="348.99" r="0.99" fill="#7a7084" opacity="0.7"/>
<circle cx="287.79" cy="352.62" r="2.03" fill="#5e4f96" opacity="0.5"/>
<circle cx="287.79" cy="352.62" r="1.23" fill="#2a1d5c"/>
<circle cx="282.97" cy="331.00" r="1.52" fill="#5e4f96" opacity="0.5"/>
<circle cx="282.97" cy="331.00" r="0.72" fill="#2a1d5c"/>
<circle cx="273.66" cy="333.04" r="1.88" fill="#5e4f96" opacity="0.5"/>
<circle cx="273.66" cy="333.04" r="1.08" fill="#2a1d5c"/>
<circle cx="316.91" cy="320.12" r="1.63" fill="#5e4f96" opacity="0.5"/>
<circle cx="316.91" cy="320.12" r="0.83" fill="#2a1d5c"/>
<circle cx="303.02" cy="347.31" r="0.96" fill="#7a7084" opacity="0.7"/>
<circle cx="332.40" cy="347.71" r="1.11" fill="#7a7084" opacity="0.7"/>
<circle cx="315.42" cy="353.89" r="1.66" fill="#5e4f96" opacity="0.5"/>
<circle cx="315.42" cy="353.89" r="0.86" fill="#2a1d5c"/>
<circle cx="294.90" cy="337.99" r="1.13" fill="#7a7084" opacity="0.7"/>
<circle cx="310.42" cy="350.53" r="0.85" fill="#7a7084" opacity="0.7"/>
<circle cx="291.88" cy="349.56" r="1.52" fill="#5e4f96" opacity="0.5"/>
<circle cx="291.88" cy="349.56" r="0.72" fill="#2a1d5c"/>
<circle cx="294.51" cy="330.79" r="1.99" fill="#5e4f96" opacity="0.5"/>
<circle cx="294.51" cy="330.79" r="1.19" fill="#2a1d5c"/>
<circle cx="280.41" cy="326.20" r="1.58" fill="#5e4f96" opacity="0.5"/>
<circle cx="280.41" cy="326.20" r="0.78" fill="#2a1d5c"/>
<circle cx="285.75" cy="335.87" r="1.62" fill="#5e4f96" opacity="0.5"/>
<circle cx="285.75" cy="335.87" r="0.82" fill="#2a1d5c"/>
<circle cx="301.08" cy="307.76" r="2.01" fill="#5e4f96" opacity="0.5"/>
<circle cx="301.08" cy="307.76" r="1.21" fill="#2a1d5c"/>
<circle cx="282.27" cy="342.12" r="1.99" fill="#5e4f96" opacity="0.5"/>
<circle cx="282.27" cy="342.12" r="1.19" fill="#2a1d5c"/>
<circle cx="316.24" cy="341.14" r="1.79" fill="#5e4f96" opacity="0.5"/>
<circle cx="316.24" cy="341.14" r="0.99" fill="#2a1d5c"/>
<circle cx="298.76" cy="355.96" r="0.81" fill="#7a7084" opacity="0.7"/>
<circle cx="305.02" cy="322.96" r="2.05" fill="#5e4f96" opacity="0.5"/>
<circle cx="305.02" cy="322.96" r="1.25" fill="#2a1d5c"/>
<circle cx="314.82" cy="313.93" r="1.89" fill="#5e4f96" opacity="0.5"/>
<circle cx="314.82" cy="313.93" r="1.09" fill="#2a1d5c"/>
<circle cx="299.63" cy="358.24" r="1.76" fill="#5e4f96" opacity="0.5"/>
<circle cx="299.63" cy="358.24" r="0.96" fill="#2a1d5c"/>
<circle cx="303.24" cy="361.40" r="0.81" fill="#7a7084" opacity="0.7"/>
<circle cx="305.52" cy="351.66" r="1.97" fill="#5e4f96" opacity="0.5"/>
<circle cx="305.52" cy="351.66" r="1.17" fill="#2a1d5c"/>
<circle cx="320.16" cy="316.92" r="1.77" fill="#5e4f96" opacity="0.5"/>
<circle cx="320.16" cy="316.92" r="0.97" fill="#2a1d5c"/>
<circle cx="304.96" cy="354.91" r="1.61" fill="#5e4f96" opacity="0.5"/>
<circle cx="304.96" cy="354.91" r="0.81" fill="#2a1d5c"/>
<circle cx="285.03" cy="353.11" r="1.13" fill="#7a7084" opacity="0.7"/>
<circle cx="311.45" cy="342.53" r="1.99" fill="#5e4f96" opacity="0.5"/>
<circle cx="311.45" cy="342.53" r="1.19" fill="#2a1d5c"/>
<circle cx="281.69" cy="333.74" r="1.91" fill="#5e4f96" opacity="0.5"/>
<circle cx="281.69" cy="333.74" r="1.11" fill="#2a1d5c"/>
<circle cx="293.24" cy="316.48" r="1.14" fill="#7a7084" opacity="0.7"/>
<circle cx="322.46" cy="351.73" r="2.01" fill="#5e4f96" opacity="0.5"/>
<circle cx="322.46" cy="351.73" r="1.21" fill="#2a1d5c"/>
<circle cx="305.53" cy="355.53" r="1.79" fill="#5e4f96" opacity="0.5"/>
<circle cx="305.53" cy="355.53" r="0.99" fill="#2a1d5c"/>
<circle cx="329.79" cy="334.59" r="1.62" fill="#5e4f96" opacity="0.5"/>
<circle cx="329.79" cy="334.59" r="0.82" fill="#2a1d5c"/>
<circle cx="334.13" cy="341.69" r="1.91" fill="#5e4f96" opacity="0.5"/>
<circle cx="334.13" cy="341.69" r="1.11" fill="#2a1d5c"/>
<circle cx="333.35" cy="351.30" r="1.96" fill="#5e4f96" opacity="0.5"/>
<circle cx="333.35" cy="351.30" r="1.16" fill="#2a1d5c"/>
<circle cx="294.38" cy="308.69" r="1.64" fill="#5e4f96" opacity="0.5"/>
<circle cx="294.38" cy="308.69" r="0.84" fill="#2a1d5c"/>
<circle cx="326.34" cy="353.53" r="1.06" fill="#7a7084" opacity="0.7"/>
<circle cx="287.60" cy="318.74" r="1.71" fill="#5e4f96" opacity="0.5"/>
<circle cx="287.60" cy="318.74" r="0.91" fill="#2a1d5c"/>
<circle cx="316.31" cy="312.59" r="2.01" fill="#5e4f96" opacity="0.5"/>
<circle cx="316.31" cy="312.59" r="1.21" fill="#2a1d5c"/>
<circle cx="274.94" cy="343.95" r="2.00" fill="#5e4f96" opacity="0.5"/>
<circle cx="274.94" cy="343.95" r="1.20" fill="#2a1d5c"/>
<circle cx="294.68" cy="308.36" r="1.95" fill="#5e4f96" opacity="0.5"/>
<circle cx="294.68" cy="308.36" r="1.15" fill="#2a1d5c"/>
</g>
<line x1="72.40" y1="393.20" x2="72.40" y2="573.30" stroke="#111" stroke-width="1.5"/>
<line x1="71.70" y1="573.30" x2="349.50" y2="573.30" stroke="#111" stroke-width="1.7"/>
<text x="59.60" y="577.20" font-family='"Liberation Sans", sans-serif' font-size="11.5" font-weight="normal" text-anchor="end" fill="#222" textLength="6.6" lengthAdjust="spacingAndGlyphs">0</text>
<line x1="72.40" y1="528.40" x2="76.90" y2="528.40" stroke="#111" stroke-width="1.4"/>
<text x="59.60" y="532.30" font-family='"Liberation Sans", sans-serif' font-size="11.5" font-weight="normal" text-anchor="end" fill="#222" textLength="13.2" lengthAdjust="spacingAndGlyphs">50</text>
<line x1="72.40" y1="483.50" x2="76.90" y2="483.50" stroke="#111" stroke-width="1.4"/>
<text x="59.60" y="487.40" font-family='"Liberation Sans", sans-serif' font-size="11.5" font-weight="normal" text-anchor="end" fill="#222" textLength="19.8" lengthAdjust="spacingAndGlyphs">100</text>
<line x1="72.40" y1="438.60" x2="76.90" y2="438.60" stroke="#111" stroke-width="1.4"/>
<text x="59.60" y="442.50" font-family='"Liberation Sans", sans-serif' font-size="11.5" font-weight="normal" text-anchor="end" fill="#222" textLength="19.8" lengthAdjust="spacingAndGlyphs">150</text>
<line x1="72.40" y1="393.70" x2="76.90" y2="393.70" stroke="#111" stroke-width="1.4"/>
<text x="59.60" y="397.60" font-family='"Liberation Sans", sans-serif' font-size="11.5" font-weight="normal" text-anchor="end" fill="#222" textLength="19.8" lengthAdjust="spacingAndGlyphs">200</text>
<rect x="89.80" y="439.05" width="57.10" height="133.45" fill="#4e83c3"/>
<line x1="118.35" y1="424.23" x2="118.35" y2="439.05" stroke="#111" stroke-width="1.4"/>
<line x1="116.75" y1="424.23" x2="119.95" y2="424.23" stroke="#111" stroke-width="1.5"/>
<rect x="182.40" y="435.19" width="57.10" height="137.31" fill="#4e83c3"/>
<line x1="210.95" y1="422.17" x2="210.95" y2="435.19" stroke="#111" stroke-width="1.4"/>
<line x1="209.35" y1="422.17" x2="212.55" y2="422.17" stroke="#111" stroke-width="1.5"/>
<rect x="274.70" y="518.07" width="57.40" height="54.43" fill="#4e83c3"/>
<line x1="303.40" y1="509.99" x2="303.40" y2="518.07" stroke="#111" stroke-width="1.4"/>
<line x1="301.80" y1="509.99" x2="305.00" y2="509.99" stroke="#111" stroke-width="1.5"/>
<path d="M303.70,498.00L303.70,506.00M300.24,500.00L307.16,504.00M307.16,500.00L300.24,504.00" stroke="#111" stroke-width="1.7" stroke-linecap="round" fill="none"/>
<text x="102.90" y="593.50" font-family='"Liberation Sans", sans-serif' font-size="12.5" font-weight="normal" text-anchor="start" fill="#222" textLength="30.8" lengthAdjust="spacingAndGlyphs">Blank</text>
<text x="202.60" y="593.50" font-family='"Liberation Sans", sans-serif' font-size="12.5" font-weight="normal" text-anchor="start" fill="#222" textLength="17.1" lengthAdjust="spacingAndGlyphs">NC</text>
<text x="279.00" y="593.50" font-family='"Liberation Sans", sans-serif' font-size="12.5" font-weight="normal" text-anchor="start" fill="#222" textLength="48.7" lengthAdjust="spacingAndGlyphs">miR-663</text>
<text x="21.00" y="598.30" font-family='"Liberation Sans", sans-serif' font-size="14.5" font-weight="normal" text-anchor="start" fill="#111" textLength="52.2" lengthAdjust="spacingAndGlyphs">PANC-1</text>
<text transform="translate(30.30,483.70) rotate(-90)" x="0" y="0" font-family='"Liberation Sans", sans-serif' font-size="14.5" font-weight="normal" text-anchor="middle" fill="#1a1a1a" textLength="109.0" lengthAdjust="spacingAndGlyphs">Colony numbers</text>
<text x="427.60" y="290.20" font-family='"Liberation Serif", serif' font-size="23" font-weight="normal" text-anchor="start" fill="#111" textLength="15.4" lengthAdjust="spacingAndGlyphs">E</text>
<text transform="translate(487.00,336.60) rotate(-90)" x="0" y="0" font-family='"Liberation Sans", sans-serif' font-size="15.5" font-weight="normal" text-anchor="middle" fill="#111" textLength="49.7" lengthAdjust="spacingAndGlyphs">AsPC-1</text>
<text x="518.30" y="287.20" font-family='"Liberation Sans", sans-serif' font-size="12.5" font-weight="normal" text-anchor="start" fill="#222" textLength="32.6" lengthAdjust="spacingAndGlyphs">Blank</text>
<text x="617.90" y="287.20" font-family='"Liberation Sans", sans-serif' font-size="12.5" font-weight="normal" text-anchor="start" fill="#222" textLength="18.4" lengthAdjust="spacingAndGlyphs">NC</text>
<text x="694.50" y="287.20" font-family='"Liberation Sans", sans-serif' font-size="12.5" font-weight="normal" text-anchor="start" fill="#222" textLength="49.8" lengthAdjust="spacingAndGlyphs">miR-663</text>
<clipPath id="clip21"><rect x="494.70" y="295.40" width="83.70" height="78.10"/></clipPath>
<g clip-path="url(#clip21)">
<rect x="494.70" y="295.40" width="83.70" height="78.10" fill="#aaa99b"/>
<ellipse cx="536.55" cy="333.65" rx="40.25" ry="37.05" fill="#b4adb4" stroke="#9e989e" stroke-width="0.8"/>
<ellipse cx="536.55" cy="333.65" rx="38.65" ry="35.45" fill="none" stroke="#c0b9c1" stroke-width="1.2"/>
<ellipse cx="536.55" cy="333.65" rx="36.25" ry="33.05" fill="#b5aeb4" stroke="#a69ea7" stroke-width="0.7"/>
<ellipse cx="539.55" cy="336.65" rx="20.12" ry="14.82" fill="#bdb7bd" opacity="0.4"/>
<path d="M520.05,366.14A39.05,35.85 0 0 1 498.83,342.93" fill="none" stroke="#dcd8dc" stroke-width="1.6" opacity="0.85"/>
<circle cx="551.22" cy="356.22" r="1.62" fill="#5e4f96" opacity="0.5"/>
<circle cx="551.22" cy="356.22" r="0.82" fill="#2a1d5c"/>
<circle cx="544.80" cy="306.28" r="1.63" fill="#5e4f96" opacity="0.5"/>
<circle cx="544.80" cy="306.28" r="0.83" fill="#2a1d5c"/>
<circle cx="557.67" cy="334.03" r="1.12" fill="#7a7084" opacity="0.7"/>
<circle cx="540.41" cy="365.01" r="1.98" fill="#5e4f96" opacity="0.5"/>
<circle cx="540.41" cy="365.01" r="1.18" fill="#2a1d5c"/>
<circle cx="531.77" cy="329.77" r="1.56" fill="#5e4f96" opacity="0.5"/>
<circle cx="531.77" cy="329.77" r="0.76" fill="#2a1d5c"/>
<circle cx="567.98" cy="324.74" r="1.17" fill="#7a7084" opacity="0.7"/>
<circle cx="511.89" cy="340.46" r="1.60" fill="#5e4f96" opacity="0.5"/>
<circle cx="511.89" cy="340.46" r="0.80" fill="#2a1d5c"/>
<circle cx="568.22" cy="340.50" r="2.03" fill="#5e4f96" opacity="0.5"/>
<circle cx="568.22" cy="340.50" r="1.23" fill="#2a1d5c"/>
<circle cx="560.23" cy="316.70" r="1.90" fill="#5e4f96" opacity="0.5"/>
<circle cx="560.23" cy="316.70" r="1.10" fill="#2a1d5c"/>
<circle cx="553.74" cy="348.81" r="2.01" fill="#5e4f96" opacity="0.5"/>
<circle cx="553.74" cy="348.81" r="1.21" fill="#2a1d5c"/>
<circle cx="553.43" cy="320.53" r="1.71" fill="#5e4f96" opacity="0.5"/>
<circle cx="553.43" cy="320.53" r="0.91" fill="#2a1d5c"/>
<circle cx="562.46" cy="332.89" r="2.05" fill="#5e4f96" opacity="0.5"/>
<circle cx="562.46" cy="332.89" r="1.25" fill="#2a1d5c"/>
<circle cx="512.25" cy="334.20" r="1.62" fill="#5e4f96" opacity="0.5"/>
<circle cx="512.25" cy="334.20" r="0.82" fill="#2a1d5c"/>
<circle cx="516.50" cy="318.76" r="0.87" fill="#7a7084" opacity="0.7"/>
<circle cx="517.23" cy="358.44" r="1.67" fill="#5e4f96" opacity="0.5"/>
<circle cx="517.23" cy="358.44" r="0.87" fill="#2a1d5c"/>
<circle cx="543.63" cy="338.54" r="1.71" fill="#5e4f96" opacity="0.5"/>
<circle cx="543.63" cy="338.54" r="0.91" fill="#2a1d5c"/>
<circle cx="524.96" cy="309.94" r="1.72" fill="#5e4f96" opacity="0.5"/>
<circle cx="524.96" cy="309.94" r="0.92" fill="#2a1d5c"/>
<circle cx="570.47" cy="331.53" r="1.77" fill="#5e4f96" opacity="0.5"/>
<circle cx="570.47" cy="331.53" r="0.97" fill="#2a1d5c"/>
<circle cx="524.32" cy="344.71" r="0.83" fill="#7a7084" opacity="0.7"/>
<circle cx="546.93" cy="307.53" r="1.53" fill="#5e4f96" opacity="0.5"/>
<circle cx="546.93" cy="307.53" r="0.73" fill="#2a1d5c"/>
<circle cx="535.61" cy="350.63" r="0.83" fill="#7a7084" opacity="0.7"/>
<circle cx="519.27" cy="359.12" r="1.76" fill="#5e4f96" opacity="0.5"/>
<circle cx="519.27" cy="359.12" r="0.96" fill="#2a1d5c"/>
<circle cx="536.08" cy="364.56" r="1.52" fill="#5e4f96" opacity="0.5"/>
<circle cx="536.08" cy="364.56" r="0.72" fill="#2a1d5c"/>
<circle cx="544.04" cy="361.74" r="1.83" fill="#5e4f96" opacity="0.5"/>
<circle cx="544.04" cy="361.74" r="1.03" fill="#2a1d5c"/>
<circle cx="512.91" cy="344.43" r="1.79" fill="#5e4f96" opacity="0.5"/>
<circle cx="512.91" cy="344.43" r="0.99" fill="#2a1d5c"/>
<circle cx="531.41" cy="362.07" r="1.51" fill="#5e4f96" opacity="0.5"/>
<circle cx="531.41" cy="362.07" r="0.71" fill="#2a1d5c"/>
<circle cx="513.41" cy="319.58" r="1.64" fill="#5e4f96" opacity="0.5"/>
<circle cx="513.41" cy="319.58" r="0.84" fill="#2a1d5c"/>
<circle cx="508.39" cy="350.93" r="0.84" fill="#7a7084" opacity="0.7"/>
<circle cx="541.13" cy="336.45" r="1.15" fill="#7a7084" opacity="0.7"/>
<circle cx="529.64" cy="324.35" r="1.77" fill="#5e4f96" opacity="0.5"/>
<circle cx="529.64" cy="324.35" r="0.97" fill="#2a1d5c"/>
<circle cx="541.99" cy="359.28" r="1.80" fill="#5e4f96" opacity="0.5"/>
<circle cx="541.99" cy="359.28" r="1.00" fill="#2a1d5c"/>
<circle cx="564.57" cy="341.27" r="1.93" fill="#5e4f96" opacity="0.5"/>
<circle cx="564.57" cy="341.27" r="1.13" fill="#2a1d5c"/>
<circle cx="568.91" cy="335.10" r="1.08" fill="#7a7084" opacity="0.7"/>
<circle cx="536.02" cy="360.00" r="0.96" fill="#7a7084" opacity="0.7"/>
<circle cx="525.65" cy="358.98" r="2.02" fill="#5e4f96" opacity="0.5"/>
<circle cx="525.65" cy="358.98" r="1.22" fill="#2a1d5c"/>
<circle cx="558.44" cy="347.86" r="2.03" fill="#5e4f96" opacity="0.5"/>
<circle cx="558.44" cy="347.86" r="1.23" fill="#2a1d5c"/>
<circle cx="525.85" cy="358.19" r="1.54" fill="#5e4f96" opacity="0.5"/>
<circle cx="525.85" cy="358.19" r="0.74" fill="#2a1d5c"/>
<circle cx="550.10" cy="304.99" r="2.05" fill="#5e4f96" opacity="0.5"/>
<circle cx="550.10" cy="304.99" r="1.25" fill="#2a1d5c"/>
<circle cx="562.20" cy="352.39" r="1.75" fill="#5e4f96" opacity="0.5"/>
<circle cx="562.20" cy="352.39" r="0.95" fill="#2a1d5c"/>
<circle cx="533.02" cy="330.58" r="1.78" fill="#5e4f96" opacity="0.5"/>
<circle cx="533.02" cy="330.58" r="0.98" fill="#2a1d5c"/>
<circle cx="516.97" cy="348.51" r="1.64" fill="#5e4f96" opacity="0.5"/>
<circle cx="516.97" cy="348.51" r="0.84" fill="#2a1d5c"/>
<circle cx="527.65" cy="306.28" r="1.63" fill="#5e4f96" opacity="0.5"/>
<circle cx="527.65" cy="306.28" r="0.83" fill="#2a1d5c"/>
<circle cx="518.36" cy="348.18" r="1.55" fill="#5e4f96" opacity="0.5"/>
<circle cx="518.36" cy="348.18" r="0.75" fill="#2a1d5c"/>
<circle cx="512.43" cy="336.47" r="1.93" fill="#5e4f96" opacity="0.5"/>
<circle cx="512.43" cy="336.47" r="1.13" fill="#2a1d5c"/>
<circle cx="515.44" cy="313.99" r="1.88" fill="#5e4f96" opacity="0.5"/>
<circle cx="515.44" cy="313.99" r="1.08" fill="#2a1d5c"/>
<circle cx="529.53" cy="319.38" r="1.84" fill="#5e4f96" opacity="0.5"/>
<circle cx="529.53" cy="319.38" r="1.04" fill="#2a1d5c"/>
<circle cx="551.97" cy="306.02" r="0.93" fill="#7a7084" opacity="0.7"/>
<circle cx="525.07" cy="359.24" r="0.92" fill="#7a7084" opacity="0.7"/>
<circle cx="564.57" cy="324.20" r="1.18" fill="#7a7084" opacity="0.7"/>
<circle cx="532.06" cy="319.92" r="1.87" fill="#5e4f96" opacity="0.5"/>
<circle cx="532.06" cy="319.92" r="1.07" fill="#2a1d5c"/>
<circle cx="534.24" cy="364.37" r="1.96" fill="#5e4f96" opacity="0.5"/>
<circle cx="534.24" cy="364.37" r="1.16" fill="#2a1d5c"/>
<circle cx="554.11" cy="356.68" r="1.71" fill="#5e4f96" opacity="0.5"/>
<circle cx="554.11" cy="356.68" r="0.91" fill="#2a1d5c"/>
<circle cx="558.62" cy="325.80" r="1.65" fill="#5e4f96" opacity="0.5"/>
<circle cx="558.62" cy="325.80" r="0.85" fill="#2a1d5c"/>
<circle cx="548.84" cy="355.38" r="1.52" fill="#5e4f96" opacity="0.5"/>
<circle cx="548.84" cy="355.38" r="0.72" fill="#2a1d5c"/>
<circle cx="548.98" cy="305.30" r="1.00" fill="#7a7084" opacity="0.7"/>
<circle cx="562.77" cy="339.66" r="1.50" fill="#5e4f96" opacity="0.5"/>
<circle cx="562.77" cy="339.66" r="0.70" fill="#2a1d5c"/>
<circle cx="526.30" cy="330.98" r="1.99" fill="#5e4f96" opacity="0.5"/>
<circle cx="526.30" cy="330.98" r="1.19" fill="#2a1d5c"/>
<circle cx="527.83" cy="342.10" r="1.79" fill="#5e4f96" opacity="0.5"/>
<circle cx="527.83" cy="342.10" r="0.99" fill="#2a1d5c"/>
<circle cx="550.86" cy="337.81" r="1.62" fill="#5e4f96" opacity="0.5"/>
<circle cx="550.86" cy="337.81" r="0.82" fill="#2a1d5c"/>
<circle cx="546.84" cy="306.21" r="1.51" fill="#5e4f96" opacity="0.5"/>
<circle cx="546.84" cy="306.21" r="0.71" fill="#2a1d5c"/>
<circle cx="527.99" cy="329.23" r="1.92" fill="#5e4f96" opacity="0.5"/>
<circle cx="527.99" cy="329.23" r="1.12" fill="#2a1d5c"/>
<circle cx="539.75" cy="340.79" r="1.84" fill="#5e4f96" opacity="0.5"/>
<circle cx="539.75" cy="340.79" r="1.04" fill="#2a1d5c"/>
<circle cx="506.04" cy="338.75" r="1.69" fill="#5e4f96" opacity="0.5"/>
<circle cx="506.04" cy="338.75" r="0.89" fill="#2a1d5c"/>
<circle cx="528.39" cy="357.53" r="0.83" fill="#7a7084" opacity="0.7"/>
<circle cx="509.00" cy="331.79" r="0.81" fill="#7a7084" opacity="0.7"/>
<circle cx="507.95" cy="334.46" r="0.84" fill="#7a7084" opacity="0.7"/>
<circle cx="559.64" cy="323.90" r="1.90" fill="#5e4f96" opacity="0.5"/>
<circle cx="559.64" cy="323.90" r="1.10" fill="#2a1d5c"/>
<circle cx="526.96" cy="332.29" r="1.52" fill="#5e4f96" opacity="0.5"/>
<circle cx="526.96" cy="332.29" r="0.72" fill="#2a1d5c"/>
<circle cx="521.38" cy="352.10" r="1.08" fill="#7a7084" opacity="0.7"/>
<circle cx="522.60" cy="334.14" r="2.00" fill="#5e4f96" opacity="0.5"/>
<circle cx="522.60" cy="334.14" r="1.20" fill="#2a1d5c"/>
<circle cx="529.62" cy="320.35" r="1.79" fill="#5e4f96" opacity="0.5"/>
<circle cx="529.62" cy="320.35" r="0.99" fill="#2a1d5c"/>
<circle cx="565.21" cy="316.73" r="2.02" fill="#5e4f96" opacity="0.5"/>
<circle cx="565.21" cy="316.73" r="1.22" fill="#2a1d5c"/>
<circle cx="537.55" cy="330.43" r="1.83" fill="#5e4f96" opacity="0.5"/>
<circle cx="537.55" cy="330.43" r="1.03" fill="#2a1d5c"/>
<circle cx="537.76" cy="302.70" r="1.98" fill="#5e4f96" opacity="0.5"/>
<circle cx="537.76" cy="302.70" r="1.18" fill="#2a1d5c"/>
<circle cx="545.83" cy="364.04" r="1.91" fill="#5e4f96" opacity="0.5"/>
<circle cx="545.83" cy="364.04" r="1.11" fill="#2a1d5c"/>
<circle cx="557.99" cy="315.95" r="1.02" fill="#7a7084" opacity="0.7"/>
<circle cx="546.59" cy="312.52" r="1.82" fill="#5e4f96" opacity="0.5"/>
<circle cx="546.59" cy="312.52" r="1.02" fill="#2a1d5c"/>
<circle cx="562.25" cy="337.55" r="1.79" fill="#5e4f96" opacity="0.5"/>
<circle cx="562.25" cy="337.55" r="0.99" fill="#2a1d5c"/>
<circle cx="558.16" cy="318.40" r="1.85" fill="#5e4f96" opacity="0.5"/>
<circle cx="558.16" cy="318.40" r="1.05" fill="#2a1d5c"/>
<circle cx="540.48" cy="306.52" r="1.74" fill="#5e4f96" opacity="0.5"/>
<circle cx="540.48" cy="306.52" r="0.94" fill="#2a1d5c"/>
<circle cx="514.78" cy="352.73" r="1.52" fill="#5e4f96" opacity="0.5"/>
<circle cx="514.78" cy="352.73" r="0.72" fill="#2a1d5c"/>
<circle cx="548.29" cy="311.96" r="1.90" fill="#5e4f96" opacity="0.5"/>
<circle cx="548.29" cy="311.96" r="1.10" fill="#2a1d5c"/>
<circle cx="557.82" cy="332.85" r="1.07" fill="#7a7084" opacity="0.7"/>
<circle cx="513.60" cy="321.91" r="0.89" fill="#7a7084" opacity="0.7"/>
<circle cx="533.44" cy="305.33" r="0.95" fill="#7a7084" opacity="0.7"/>
<circle cx="547.87" cy="313.85" r="1.85" fill="#5e4f96" opacity="0.5"/>
<circle cx="547.87" cy="313.85" r="1.05" fill="#2a1d5c"/>
<circle cx="513.03" cy="318.40" r="1.71" fill="#5e4f96" opacity="0.5"/>
<circle cx="513.03" cy="318.40" r="0.91" fill="#2a1d5c"/>
<circle cx="536.47" cy="361.57" r="1.61" fill="#5e4f96" opacity="0.5"/>
<circle cx="536.47" cy="361.57" r="0.81" fill="#2a1d5c"/>
<circle cx="552.68" cy="312.81" r="1.58" fill="#5e4f96" opacity="0.5"/>
<circle cx="552.68" cy="312.81" r="0.78" fill="#2a1d5c"/>
<circle cx="545.26" cy="319.47" r="1.62" fill="#5e4f96" opacity="0.5"/>
<circle cx="545.26" cy="319.47" r="0.82" fill="#2a1d5c"/>
<circle cx="543.08" cy="355.11" r="1.88" fill="#5e4f96" opacity="0.5"/>
<circle cx="543.08" cy="355.11" r="1.08" fill="#2a1d5c"/>
<circle cx="522.31" cy="355.54" r="0.86" fill="#7a7084" opacity="0.7"/>
<circle cx="563.60" cy="343.00" r="1.15" fill="#7a7084" opacity="0.7"/>
<circle cx="533.71" cy="329.86" r="1.74" fill="#5e4f96" opacity="0.5"/>
<circle cx="533.71" cy="329.86" r="0.94" fill="#2a1d5c"/>
<circle cx="502.53" cy="333.53" r="1.85" fill="#5e4f96" opacity="0.5"/>
<circle cx="502.53" cy="333.53" r="1.05" fill="#2a1d5c"/>
<circle cx="522.98" cy="347.53" r="1.75" fill="#5e4f96" opacity="0.5"/>
<circle cx="522.98" cy="347.53" r="0.95" fill="#2a1d5c"/>
<circle cx="520.22" cy="332.36" r="1.06" fill="#7a7084" opacity="0.7"/>
<circle cx="520.88" cy="337.80" r="1.55" fill="#5e4f96" opacity="0.5"/>
<circle cx="520.88" cy="337.80" r="0.75" fill="#2a1d5c"/>
<circle cx="522.49" cy="334.45" r="1.68" fill="#5e4f96" opacity="0.5"/>
<circle cx="522.49" cy="334.45" r="0.88" fill="#2a1d5c"/>
<circle cx="542.26" cy="357.20" r="1.97" fill="#5e4f96" opacity="0.5"/>
<circle cx="542.26" cy="357.20" r="1.17" fill="#2a1d5c"/>
<circle cx="538.65" cy="344.03" r="0.96" fill="#7a7084" opacity="0.7"/>
<circle cx="537.62" cy="319.45" r="1.55" fill="#5e4f96" opacity="0.5"/>
<circle cx="537.62" cy="319.45" r="0.75" fill="#2a1d5c"/>
<circle cx="537.81" cy="358.20" r="1.95" fill="#5e4f96" opacity="0.5"/>
<circle cx="537.81" cy="358.20" r="1.15" fill="#2a1d5c"/>
<circle cx="508.83" cy="330.39" r="2.00" fill="#5e4f96" opacity="0.5"/>
<circle cx="508.83" cy="330.39" r="1.20" fill="#2a1d5c"/>
<circle cx="517.89" cy="354.85" r="1.92" fill="#5e4f96" opacity="0.5"/>
<circle cx="517.89" cy="354.85" r="1.12" fill="#2a1d5c"/>
<circle cx="523.57" cy="327.18" r="1.19" fill="#7a7084" opacity="0.7"/>
<circle cx="541.38" cy="307.23" r="0.94" fill="#7a7084" opacity="0.7"/>
<circle cx="522.09" cy="311.73" r="1.53" fill="#5e4f96" opacity="0.5"/>
<circle cx="522.09" cy="311.73" r="0.73" fill="#2a1d5c"/>
<circle cx="534.13" cy="342.89" r="1.91" fill="#5e4f96" opacity="0.5"/>
<circle cx="534.13" cy="342.89" r="1.11" fill="#2a1d5c"/>
<circle cx="555.11" cy="356.72" r="1.63" fill="#5e4f96" opacity="0.5"/>
<circle cx="555.11" cy="356.72" r="0.83" fill="#2a1d5c"/>
<circle cx="513.86" cy="354.52" r="1.85" fill="#5e4f96" opacity="0.5"/>
<circle cx="513.86" cy="354.52" r="1.05" fill="#2a1d5c"/>
<circle cx="511.04" cy="337.54" r="1.00" fill="#7a7084" opacity="0.7"/>
<circle cx="525.19" cy="362.67" r="1.61" fill="#5e4f96" opacity="0.5"/>
<circle cx="525.19" cy="362.67" r="0.81" fill="#2a1d5c"/>
<circle cx="552.28" cy="336.54" r="1.87" fill="#5e4f96" opacity="0.5"/>
<circle cx="552.28" cy="336.54" r="1.07" fill="#2a1d5c"/>
<circle cx="539.97" cy="358.93" r="1.79" fill="#5e4f96" opacity="0.5"/>
<circle cx="539.97" cy="358.93" r="0.99" fill="#2a1d5c"/>
</g>
<clipPath id="clip22"><rect x="585.60" y="295.40" width="84.90" height="78.10"/></clipPath>
<g clip-path="url(#clip22)">
<rect x="585.60" y="295.40" width="84.90" height="78.10" fill="#aaa99b"/>
<ellipse cx="628.05" cy="333.65" rx="40.85" ry="37.05" fill="#b4adb4" stroke="#9e989e" stroke-width="0.8"/>
<ellipse cx="628.05" cy="333.65" rx="39.25" ry="35.45" fill="none" stroke="#c0b9c1" stroke-width="1.2"/>
<ellipse cx="628.05" cy="333.65" rx="36.85" ry="33.05" fill="#b5aeb4" stroke="#a69ea7" stroke-width="0.7"/>
<ellipse cx="631.05" cy="336.65" rx="20.42" ry="14.82" fill="#bdb7bd" opacity="0.4"/>
<path d="M611.29,366.14A39.65,35.85 0 0 1 589.75,342.93" fill="none" stroke="#dcd8dc" stroke-width="1.6" opacity="0.85"/>
<circle cx="662.09" cy="325.46" r="0.85" fill="#7a7084" opacity="0.7"/>
<circle cx="616.02" cy="318.54" r="2.03" fill="#5e4f96" opacity="0.5"/>
<circle cx="616.02" cy="318.54" r="1.23" fill="#2a1d5c"/>
<circle cx="616.50" cy="355.84" r="2.01" fill="#5e4f96" opacity="0.5"/>
<circle cx="616.50" cy="355.84" r="1.21" fill="#2a1d5c"/>
<circle cx="626.03" cy="326.94" r="1.67" fill="#5e4f96" opacity="0.5"/>
<circle cx="626.03" cy="326.94" r="0.87" fill="#2a1d5c"/>
<circle cx="639.99" cy="360.72" r="1.93" fill="#5e4f96" opacity="0.5"/>
<circle cx="639.99" cy="360.72" r="1.13" fill="#2a1d5c"/>
<circle cx="653.80" cy="327.91" r="1.64" fill="#5e4f96" opacity="0.5"/>
<circle cx="653.80" cy="327.91" r="0.84" fill="#2a1d5c"/>
<circle cx="647.04" cy="328.91" r="1.86" fill="#5e4f96" opacity="0.5"/>
<circle cx="647.04" cy="328.91" r="1.06" fill="#2a1d5c"/>
<circle cx="648.12" cy="356.00" r="0.82" fill="#7a7084" opacity="0.7"/>
<circle cx="621.84" cy="332.52" r="1.78" fill="#5e4f96" opacity="0.5"/>
<circle cx="621.84" cy="332.52" r="0.98" fill="#2a1d5c"/>
<circle cx="603.90" cy="347.48" r="1.71" fill="#5e4f96" opacity="0.5"/>
<circle cx="603.90" cy="347.48" r="0.91" fill="#2a1d5c"/>
<circle cx="611.36" cy="325.11" r="1.74" fill="#5e4f96" opacity="0.5"/>
<circle cx="611.36" cy="325.11" r="0.94" fill="#2a1d5c"/>
<circle cx="611.71" cy="305.71" r="1.74" fill="#5e4f96" opacity="0.5"/>
<circle cx="611.71" cy="305.71" r="0.94" fill="#2a1d5c"/>
<circle cx="600.20" cy="351.11" r="1.72" fill="#5e4f96" opacity="0.5"/>
<circle cx="600.20" cy="351.11" r="0.92" fill="#2a1d5c"/>
<circle cx="653.36" cy="349.38" r="1.68" fill="#5e4f96" opacity="0.5"/>
<circle cx="653.36" cy="349.38" r="0.88" fill="#2a1d5c"/>
<circle cx="608.90" cy="355.14" r="1.86" fill="#5e4f96" opacity="0.5"/>
<circle cx="608.90" cy="355.14" r="1.06" fill="#2a1d5c"/>
<circle cx="636.89" cy="358.83" r="2.01" fill="#5e4f96" opacity="0.5"/>
<circle cx="636.89" cy="358.83" r="1.21" fill="#2a1d5c"/>
<circle cx="596.60" cy="340.77" r="1.82" fill="#5e4f96" opacity="0.5"/>
<circle cx="596.60" cy="340.77" r="1.02" fill="#2a1d5c"/>
<circle cx="658.41" cy="332.16" r="1.85" fill="#5e4f96" opacity="0.5"/>
<circle cx="658.41" cy="332.16" r="1.05" fill="#2a1d5c"/>
<circle cx="609.10" cy="355.87" r="2.02" fill="#5e4f96" opacity="0.5"/>
<circle cx="609.10" cy="355.87" r="1.22" fill="#2a1d5c"/>
<circle cx="652.82" cy="336.20" r="1.59" fill="#5e4f96" opacity="0.5"/>
<circle cx="652.82" cy="336.20" r="0.79" fill="#2a1d5c"/>
<circle cx="618.85" cy="312.01" r="1.69" fill="#5e4f96" opacity="0.5"/>
<circle cx="618.85" cy="312.01" r="0.89" fill="#2a1d5c"/>
<circle cx="653.07" cy="354.19" r="0.91" fill="#7a7084" opacity="0.7"/>
<circle cx="651.65" cy="348.47" r="2.01" fill="#5e4f96" opacity="0.5"/>
<circle cx="651.65" cy="348.47" r="1.21" fill="#2a1d5c"/>
<circle cx="631.53" cy="328.32" r="1.52" fill="#5e4f96" opacity="0.5"/>
<circle cx="631.53" cy="328.32" r="0.72" fill="#2a1d5c"/>
<circle cx="635.20" cy="354.80" r="1.89" fill="#5e4f96" opacity="0.5"/>
<circle cx="635.20" cy="354.80" r="1.09" fill="#2a1d5c"/>
<circle cx="600.69" cy="339.21" r="1.07" fill="#7a7084" opacity="0.7"/>
<circle cx="646.26" cy="358.57" r="1.00" fill="#7a7084" opacity="0.7"/>
<circle cx="622.29" cy="329.72" r="1.11" fill="#7a7084" opacity="0.7"/>
<circle cx="656.07" cy="334.29" r="1.63" fill="#5e4f96" opacity="0.5"/>
<circle cx="656.07" cy="334.29" r="0.83" fill="#2a1d5c"/>
<circle cx="615.17" cy="331.11" r="1.95" fill="#5e4f96" opacity="0.5"/>
<circle cx="615.17" cy="331.11" r="1.15" fill="#2a1d5c"/>
<circle cx="649.75" cy="334.76" r="1.12" fill="#7a7084" opacity="0.7"/>
<circle cx="648.54" cy="319.06" r="1.78" fill="#5e4f96" opacity="0.5"/>
<circle cx="648.54" cy="319.06" r="0.98" fill="#2a1d5c"/>
<circle cx="640.77" cy="361.57" r="1.88" fill="#5e4f96" opacity="0.5"/>
<circle cx="640.77" cy="361.57" r="1.08" fill="#2a1d5c"/>
<circle cx="640.14" cy="309.62" r="1.92" fill="#5e4f96" opacity="0.5"/>
<circle cx="640.14" cy="309.62" r="1.12" fill="#2a1d5c"/>
<circle cx="607.58" cy="349.46" r="0.95" fill="#7a7084" opacity="0.7"/>
<circle cx="630.29" cy="356.28" r="1.02" fill="#7a7084" opacity="0.7"/>
<circle cx="646.04" cy="315.29" r="1.51" fill="#5e4f96" opacity="0.5"/>
<circle cx="646.04" cy="315.29" r="0.71" fill="#2a1d5c"/>
<circle cx="655.75" cy="325.34" r="1.55" fill="#5e4f96" opacity="0.5"/>
<circle cx="655.75" cy="325.34" r="0.75" fill="#2a1d5c"/>
<circle cx="641.66" cy="339.07" r="2.00" fill="#5e4f96" opacity="0.5"/>
<circle cx="641.66" cy="339.07" r="1.20" fill="#2a1d5c"/>
<circle cx="604.38" cy="346.74" r="2.03" fill="#5e4f96" opacity="0.5"/>
<circle cx="604.38" cy="346.74" r="1.23" fill="#2a1d5c"/>
<circle cx="656.12" cy="324.02" r="1.86" fill="#5e4f96" opacity="0.5"/>
<circle cx="656.12" cy="324.02" r="1.06" fill="#2a1d5c"/>
<circle cx="616.78" cy="354.64" r="1.66" fill="#5e4f96" opacity="0.5"/>
<circle cx="616.78" cy="354.64" r="0.86" fill="#2a1d5c"/>
<circle cx="657.53" cy="337.64" r="1.60" fill="#5e4f96" opacity="0.5"/>
<circle cx="657.53" cy="337.64" r="0.80" fill="#2a1d5c"/>
<circle cx="605.58" cy="336.61" r="1.67" fill="#5e4f96" opacity="0.5"/>
<circle cx="605.58" cy="336.61" r="0.87" fill="#2a1d5c"/>
<circle cx="596.11" cy="326.07" r="1.52" fill="#5e4f96" opacity="0.5"/>
<circle cx="596.11" cy="326.07" r="0.72" fill="#2a1d5c"/>
<circle cx="653.47" cy="326.33" r="1.67" fill="#5e4f96" opacity="0.5"/>
<circle cx="653.47" cy="326.33" r="0.87" fill="#2a1d5c"/>
<circle cx="633.07" cy="339.00" r="1.56" fill="#5e4f96" opacity="0.5"/>
<circle cx="633.07" cy="339.00" r="0.76" fill="#2a1d5c"/>
<circle cx="596.72" cy="337.06" r="0.94" fill="#7a7084" opacity="0.7"/>
<circle cx="603.37" cy="354.23" r="1.85" fill="#5e4f96" opacity="0.5"/>
<circle cx="603.37" cy="354.23" r="1.05" fill="#2a1d5c"/>
<circle cx="655.90" cy="341.52" r="1.70" fill="#5e4f96" opacity="0.5"/>
<circle cx="655.90" cy="341.52" r="0.90" fill="#2a1d5c"/>
<circle cx="622.01" cy="357.18" r="1.93" fill="#5e4f96" opacity="0.5"/>
<circle cx="622.01" cy="357.18" r="1.13" fill="#2a1d5c"/>
<circle cx="633.02" cy="354.89" r="1.51" fill="#5e4f96" opacity="0.5"/>
<circle cx="633.02" cy="354.89" r="0.71" fill="#2a1d5c"/>
<circle cx="651.73" cy="322.09" r="1.88" fill="#5e4f96" opacity="0.5"/>
<circle cx="651.73" cy="322.09" r="1.08" fill="#2a1d5c"/>
<circle cx="646.73" cy="326.13" r="1.60" fill="#5e4f96" opacity="0.5"/>
<circle cx="646.73" cy="326.13" r="0.80" fill="#2a1d5c"/>
<circle cx="600.01" cy="350.51" r="1.64" fill="#5e4f96" opacity="0.5"/>
<circle cx="600.01" cy="350.51" r="0.84" fill="#2a1d5c"/>
<circle cx="648.85" cy="313.49" r="1.82" fill="#5e4f96" opacity="0.5"/>
<circle cx="648.85" cy="313.49" r="1.02" fill="#2a1d5c"/>
<circle cx="614.20" cy="324.40" r="1.94" fill="#5e4f96" opacity="0.5"/>
<circle cx="614.20" cy="324.40" r="1.14" fill="#2a1d5c"/>
<circle cx="603.73" cy="356.06" r="1.73" fill="#5e4f96" opacity="0.5"/>
<circle cx="603.73" cy="356.06" r="0.93" fill="#2a1d5c"/>
<circle cx="649.81" cy="353.90" r="1.93" fill="#5e4f96" opacity="0.5"/>
<circle cx="649.81" cy="353.90" r="1.13" fill="#2a1d5c"/>
<circle cx="648.38" cy="352.27" r="1.57" fill="#5e4f96" opacity="0.5"/>
<circle cx="648.38" cy="352.27" r="0.77" fill="#2a1d5c"/>
<circle cx="610.28" cy="350.06" r="1.94" fill="#5e4f96" opacity="0.5"/>
<circle cx="610.28" cy="350.06" r="1.14" fill="#2a1d5c"/>
<circle cx="646.77" cy="359.28" r="0.84" fill="#7a7084" opacity="0.7"/>
<circle cx="609.97" cy="350.72" r="1.64" fill="#5e4f96" opacity="0.5"/>
<circle cx="609.97" cy="350.72" r="0.84" fill="#2a1d5c"/>
<circle cx="605.81" cy="340.91" r="1.63" fill="#5e4f96" opacity="0.5"/>
<circle cx="605.81" cy="340.91" r="0.83" fill="#2a1d5c"/>
<circle cx="639.45" cy="355.23" r="1.13" fill="#7a7084" opacity="0.7"/>
<circle cx="595.28" cy="325.92" r="1.74" fill="#5e4f96" opacity="0.5"/>
<circle cx="595.28" cy="325.92" r="0.94" fill="#2a1d5c"/>
<circle cx="626.18" cy="318.56" r="1.52" fill="#5e4f96" opacity="0.5"/>
<circle cx="626.18" cy="318.56" r="0.72" fill="#2a1d5c"/>
<circle cx="608.99" cy="359.22" r="1.78" fill="#5e4f96" opacity="0.5"/>
<circle cx="608.99" cy="359.22" r="0.98" fill="#2a1d5c"/>
<circle cx="652.23" cy="318.85" r="1.18" fill="#7a7084" opacity="0.7"/>
<circle cx="648.79" cy="323.38" r="1.05" fill="#7a7084" opacity="0.7"/>
<circle cx="647.32" cy="311.38" r="1.59" fill="#5e4f96" opacity="0.5"/>
<circle cx="647.32" cy="311.38" r="0.79" fill="#2a1d5c"/>
<circle cx="621.30" cy="363.00" r="1.96" fill="#5e4f96" opacity="0.5"/>
<circle cx="621.30" cy="363.00" r="1.16" fill="#2a1d5c"/>
<circle cx="602.55" cy="340.30" r="1.92" fill="#5e4f96" opacity="0.5"/>
<circle cx="602.55" cy="340.30" r="1.12" fill="#2a1d5c"/>
<circle cx="635.70" cy="309.52" r="1.90" fill="#5e4f96" opacity="0.5"/>
<circle cx="635.70" cy="309.52" r="1.10" fill="#2a1d5c"/>
<circle cx="621.28" cy="340.32" r="1.60" fill="#5e4f96" opacity="0.5"/>
<circle cx="621.28" cy="340.32" r="0.80" fill="#2a1d5c"/>
<circle cx="620.60" cy="339.13" r="1.99" fill="#5e4f96" opacity="0.5"/>
<circle cx="620.60" cy="339.13" r="1.19" fill="#2a1d5c"/>
<circle cx="627.76" cy="330.38" r="1.79" fill="#5e4f96" opacity="0.5"/>
<circle cx="627.76" cy="330.38" r="0.99" fill="#2a1d5c"/>
<circle cx="648.16" cy="317.63" r="1.97" fill="#5e4f96" opacity="0.5"/>
<circle cx="648.16" cy="317.63" r="1.17" fill="#2a1d5c"/>
<circle cx="633.85" cy="324.13" r="0.89" fill="#7a7084" opacity="0.7"/>
<circle cx="608.96" cy="356.53" r="1.99" fill="#5e4f96" opacity="0.5"/>
<circle cx="608.96" cy="356.53" r="1.19" fill="#2a1d5c"/>
<circle cx="605.10" cy="336.06" r="1.64" fill="#5e4f96" opacity="0.5"/>
<circle cx="605.10" cy="336.06" r="0.84" fill="#2a1d5c"/>
<circle cx="651.50" cy="354.01" r="1.89" fill="#5e4f96" opacity="0.5"/>
<circle cx="651.50" cy="354.01" r="1.09" fill="#2a1d5c"/>
<circle cx="626.56" cy="341.89" r="2.00" fill="#5e4f96" opacity="0.5"/>
<circle cx="626.56" cy="341.89" r="1.20" fill="#2a1d5c"/>
<circle cx="636.80" cy="357.40" r="2.01" fill="#5e4f96" opacity="0.5"/>
<circle cx="636.80" cy="357.40" r="1.21" fill="#2a1d5c"/>
<circle cx="629.16" cy="340.63" r="1.56" fill="#5e4f96" opacity="0.5"/>
<circle cx="629.16" cy="340.63" r="0.76" fill="#2a1d5c"/>
<circle cx="599.76" cy="347.97" r="1.93" fill="#5e4f96" opacity="0.5"/>
<circle cx="599.76" cy="347.97" r="1.13" fill="#2a1d5c"/>
<circle cx="604.12" cy="335.42" r="1.01" fill="#7a7084" opacity="0.7"/>
<circle cx="629.84" cy="357.77" r="1.02" fill="#7a7084" opacity="0.7"/>
<circle cx="630.31" cy="357.10" r="1.57" fill="#5e4f96" opacity="0.5"/>
<circle cx="630.31" cy="357.10" r="0.77" fill="#2a1d5c"/>
<circle cx="604.16" cy="318.92" r="1.82" fill="#5e4f96" opacity="0.5"/>
<circle cx="604.16" cy="318.92" r="1.02" fill="#2a1d5c"/>
<circle cx="647.34" cy="336.33" r="1.56" fill="#5e4f96" opacity="0.5"/>
<circle cx="647.34" cy="336.33" r="0.76" fill="#2a1d5c"/>
<circle cx="604.72" cy="344.98" r="1.98" fill="#5e4f96" opacity="0.5"/>
<circle cx="604.72" cy="344.98" r="1.18" fill="#2a1d5c"/>
<circle cx="614.49" cy="343.64" r="0.92" fill="#7a7084" opacity="0.7"/>
<circle cx="601.57" cy="316.79" r="1.65" fill="#5e4f96" opacity="0.5"/>
<circle cx="601.57" cy="316.79" r="0.85" fill="#2a1d5c"/>
<circle cx="606.50" cy="355.99" r="1.65" fill="#5e4f96" opacity="0.5"/>
<circle cx="606.50" cy="355.99" r="0.85" fill="#2a1d5c"/>
<circle cx="655.29" cy="345.58" r="1.73" fill="#5e4f96" opacity="0.5"/>
<circle cx="655.29" cy="345.58" r="0.93" fill="#2a1d5c"/>
<circle cx="626.90" cy="306.13" r="2.05" fill="#5e4f96" opacity="0.5"/>
<circle cx="626.90" cy="306.13" r="1.25" fill="#2a1d5c"/>
<circle cx="631.33" cy="318.63" r="0.95" fill="#7a7084" opacity="0.7"/>
<circle cx="638.14" cy="313.57" r="1.55" fill="#5e4f96" opacity="0.5"/>
<circle cx="638.14" cy="313.57" r="0.75" fill="#2a1d5c"/>
<circle cx="613.18" cy="351.10" r="2.02" fill="#5e4f96" opacity="0.5"/>
<circle cx="613.18" cy="351.10" r="1.22" fill="#2a1d5c"/>
<circle cx="636.33" cy="311.54" r="2.04" fill="#5e4f96" opacity="0.5"/>
<circle cx="636.33" cy="311.54" r="1.24" fill="#2a1d5c"/>
<circle cx="605.72" cy="319.78" r="1.92" fill="#5e4f96" opacity="0.5"/>
<circle cx="605.72" cy="319.78" r="1.12" fill="#2a1d5c"/>
<circle cx="604.66" cy="355.15" r="1.89" fill="#5e4f96" opacity="0.5"/>
<circle cx="604.66" cy="355.15" r="1.09" fill="#2a1d5c"/>
<circle cx="599.15" cy="321.47" r="1.90" fill="#5e4f96" opacity="0.5"/>
<circle cx="599.15" cy="321.47" r="1.10" fill="#2a1d5c"/>
<circle cx="628.43" cy="327.69" r="1.71" fill="#5e4f96" opacity="0.5"/>
<circle cx="628.43" cy="327.69" r="0.91" fill="#2a1d5c"/>
</g>
<clipPath id="clip23"><rect x="678.20" y="295.40" width="84.40" height="78.10"/></clipPath>
<g clip-path="url(#clip23)">
<rect x="678.20" y="295.40" width="84.40" height="78.10" fill="#aaa99b"/>
<ellipse cx="720.40" cy="333.65" rx="40.60" ry="37.05" fill="#b4adb4" stroke="#9e989e" stroke-width="0.8"/>
<ellipse cx="720.40" cy="333.65" rx="39.00" ry="35.45" fill="none" stroke="#c0b9c1" stroke-width="1.2"/>
<ellipse cx="720.40" cy="333.65" rx="36.60" ry="33.05" fill="#b5aeb4" stroke="#a69ea7" stroke-width="0.7"/>
<ellipse cx="723.40" cy="336.65" rx="20.30" ry="14.82" fill="#bdb7bd" opacity="0.4"/>
<path d="M703.75,366.14A39.40,35.85 0 0 1 682.34,342.93" fill="none" stroke="#dcd8dc" stroke-width="1.6" opacity="0.85"/>
<circle cx="750.77" cy="319.67" r="1.04" fill="#7a7084" opacity="0.7"/>
<circle cx="696.31" cy="344.93" r="1.62" fill="#5e4f96" opacity="0.5"/>
<circle cx="696.31" cy="344.93" r="0.82" fill="#2a1d5c"/>
<circle cx="689.49" cy="341.74" r="1.78" fill="#5e4f96" opacity="0.5"/>
<circle cx="689.49" cy="341.74" r="0.98" fill="#2a1d5c"/>
<circle cx="717.14" cy="304.13" r="1.86" fill="#5e4f96" opacity="0.5"/>
<circle cx="717.14" cy="304.13" r="1.06" fill="#2a1d5c"/>
<circle cx="695.40" cy="312.21" r="1.70" fill="#5e4f96" opacity="0.5"/>
<circle cx="695.40" cy="312.21" r="0.90" fill="#2a1d5c"/>
<circle cx="694.81" cy="322.43" r="0.99" fill="#7a7084" opacity="0.7"/>
<circle cx="715.01" cy="309.88" r="1.60" fill="#5e4f96" opacity="0.5"/>
<circle cx="715.01" cy="309.88" r="0.80" fill="#2a1d5c"/>
<circle cx="729.04" cy="349.83" r="0.85" fill="#7a7084" opacity="0.7"/>
<circle cx="745.52" cy="349.80" r="1.68" fill="#5e4f96" opacity="0.5"/>
<circle cx="745.52" cy="349.80" r="0.88" fill="#2a1d5c"/>
<circle cx="707.55" cy="346.04" r="1.80" fill="#5e4f96" opacity="0.5"/>
<circle cx="707.55" cy="346.04" r="1.00" fill="#2a1d5c"/>
<circle cx="719.79" cy="343.97" r="1.96" fill="#5e4f96" opacity="0.5"/>
<circle cx="719.79" cy="343.97" r="1.16" fill="#2a1d5c"/>
<circle cx="722.34" cy="356.90" r="2.02" fill="#5e4f96" opacity="0.5"/>
<circle cx="722.34" cy="356.90" r="1.22" fill="#2a1d5c"/>
<circle cx="734.97" cy="356.60" r="1.12" fill="#7a7084" opacity="0.7"/>
<circle cx="707.12" cy="304.89" r="1.80" fill="#5e4f96" opacity="0.5"/>
<circle cx="707.12" cy="304.89" r="1.00" fill="#2a1d5c"/>
<circle cx="750.62" cy="331.63" r="1.71" fill="#5e4f96" opacity="0.5"/>
<circle cx="750.62" cy="331.63" r="0.91" fill="#2a1d5c"/>
<circle cx="723.76" cy="341.80" r="1.17" fill="#7a7084" opacity="0.7"/>
<circle cx="749.36" cy="325.25" r="1.02" fill="#7a7084" opacity="0.7"/>
<circle cx="727.18" cy="318.99" r="1.74" fill="#5e4f96" opacity="0.5"/>
<circle cx="727.18" cy="318.99" r="0.94" fill="#2a1d5c"/>
<circle cx="702.19" cy="358.55" r="1.88" fill="#5e4f96" opacity="0.5"/>
<circle cx="702.19" cy="358.55" r="1.08" fill="#2a1d5c"/>
<circle cx="695.53" cy="347.37" r="1.63" fill="#5e4f96" opacity="0.5"/>
<circle cx="695.53" cy="347.37" r="0.83" fill="#2a1d5c"/>
<circle cx="714.11" cy="353.05" r="1.80" fill="#5e4f96" opacity="0.5"/>
<circle cx="714.11" cy="353.05" r="1.00" fill="#2a1d5c"/>
<circle cx="725.73" cy="324.43" r="1.81" fill="#5e4f96" opacity="0.5"/>
<circle cx="725.73" cy="324.43" r="1.01" fill="#2a1d5c"/>
<circle cx="729.32" cy="320.12" r="1.02" fill="#7a7084" opacity="0.7"/>
<circle cx="704.00" cy="329.67" r="1.75" fill="#5e4f96" opacity="0.5"/>
<circle cx="704.00" cy="329.67" r="0.95" fill="#2a1d5c"/>
<circle cx="719.97" cy="331.71" r="1.58" fill="#5e4f96" opacity="0.5"/>
<circle cx="719.97" cy="331.71" r="0.78" fill="#2a1d5c"/>
<circle cx="731.03" cy="323.11" r="0.98" fill="#7a7084" opacity="0.7"/>
<circle cx="711.55" cy="337.87" r="1.88" fill="#5e4f96" opacity="0.5"/>
<circle cx="711.55" cy="337.87" r="1.08" fill="#2a1d5c"/>
<circle cx="695.08" cy="327.92" r="1.99" fill="#5e4f96" opacity="0.5"/>
<circle cx="695.08" cy="327.92" r="1.19" fill="#2a1d5c"/>
<circle cx="748.47" cy="348.92" r="1.93" fill="#5e4f96" opacity="0.5"/>
<circle cx="748.47" cy="348.92" r="1.13" fill="#2a1d5c"/>
<circle cx="707.25" cy="310.97" r="1.67" fill="#5e4f96" opacity="0.5"/>
<circle cx="707.25" cy="310.97" r="0.87" fill="#2a1d5c"/>
<circle cx="740.20" cy="329.03" r="1.95" fill="#5e4f96" opacity="0.5"/>
<circle cx="740.20" cy="329.03" r="1.15" fill="#2a1d5c"/>
<circle cx="692.69" cy="337.16" r="0.89" fill="#7a7084" opacity="0.7"/>
<circle cx="717.58" cy="362.69" r="0.99" fill="#7a7084" opacity="0.7"/>
<circle cx="739.50" cy="350.01" r="1.64" fill="#5e4f96" opacity="0.5"/>
<circle cx="739.50" cy="350.01" r="0.84" fill="#2a1d5c"/>
<circle cx="730.72" cy="320.99" r="1.52" fill="#5e4f96" opacity="0.5"/>
<circle cx="730.72" cy="320.99" r="0.72" fill="#2a1d5c"/>
<circle cx="726.86" cy="318.13" r="1.13" fill="#7a7084" opacity="0.7"/>
<circle cx="745.77" cy="348.24" r="1.66" fill="#5e4f96" opacity="0.5"/>
<circle cx="745.77" cy="348.24" r="0.86" fill="#2a1d5c"/>
<circle cx="749.93" cy="347.91" r="1.19" fill="#7a7084" opacity="0.7"/>
<circle cx="746.95" cy="318.84" r="1.09" fill="#7a7084" opacity="0.7"/>
<circle cx="691.48" cy="338.82" r="1.95" fill="#5e4f96" opacity="0.5"/>
<circle cx="691.48" cy="338.82" r="1.15" fill="#2a1d5c"/>
<circle cx="698.91" cy="319.02" r="0.84" fill="#7a7084" opacity="0.7"/>
<circle cx="730.30" cy="322.43" r="1.84" fill="#5e4f96" opacity="0.5"/>
<circle cx="730.30" cy="322.43" r="1.04" fill="#2a1d5c"/>
<circle cx="688.65" cy="327.56" r="1.86" fill="#5e4f96" opacity="0.5"/>
<circle cx="688.65" cy="327.56" r="1.06" fill="#2a1d5c"/>
<circle cx="719.30" cy="303.29" r="2.04" fill="#5e4f96" opacity="0.5"/>
<circle cx="719.30" cy="303.29" r="1.24" fill="#2a1d5c"/>
<circle cx="732.91" cy="332.40" r="1.96" fill="#5e4f96" opacity="0.5"/>
<circle cx="732.91" cy="332.40" r="1.16" fill="#2a1d5c"/>
</g>
<line x1="486.60" y1="394.10" x2="486.60" y2="574.60" stroke="#111" stroke-width="1.5"/>
<line x1="485.90" y1="574.60" x2="762.90" y2="574.60" stroke="#111" stroke-width="1.7"/>
<text x="472.60" y="578.50" font-family='"Liberation Sans", sans-serif' font-size="11.5" font-weight="normal" text-anchor="end" fill="#222" textLength="6.6" lengthAdjust="spacingAndGlyphs">0</text>
<line x1="486.60" y1="538.60" x2="491.10" y2="538.60" stroke="#111" stroke-width="1.4"/>
<text x="472.60" y="542.50" font-family='"Liberation Sans", sans-serif' font-size="11.5" font-weight="normal" text-anchor="end" fill="#222" textLength="13.2" lengthAdjust="spacingAndGlyphs">30</text>
<line x1="486.60" y1="502.60" x2="491.10" y2="502.60" stroke="#111" stroke-width="1.4"/>
<text x="472.60" y="506.50" font-family='"Liberation Sans", sans-serif' font-size="11.5" font-weight="normal" text-anchor="end" fill="#222" textLength="13.2" lengthAdjust="spacingAndGlyphs">60</text>
<line x1="486.60" y1="466.60" x2="491.10" y2="466.60" stroke="#111" stroke-width="1.4"/>
<text x="472.60" y="470.50" font-family='"Liberation Sans", sans-serif' font-size="11.5" font-weight="normal" text-anchor="end" fill="#222" textLength="13.2" lengthAdjust="spacingAndGlyphs">90</text>
<line x1="486.60" y1="430.60" x2="491.10" y2="430.60" stroke="#111" stroke-width="1.4"/>
<text x="472.60" y="434.50" font-family='"Liberation Sans", sans-serif' font-size="11.5" font-weight="normal" text-anchor="end" fill="#222" textLength="19.8" lengthAdjust="spacingAndGlyphs">120</text>
<line x1="486.60" y1="394.60" x2="491.10" y2="394.60" stroke="#111" stroke-width="1.4"/>
<text x="472.60" y="398.50" font-family='"Liberation Sans", sans-serif' font-size="11.5" font-weight="normal" text-anchor="end" fill="#222" textLength="19.8" lengthAdjust="spacingAndGlyphs">150</text>
<rect x="503.40" y="438.76" width="57.40" height="135.04" fill="#4e83c3"/>
<line x1="532.10" y1="422.44" x2="532.10" y2="438.76" stroke="#111" stroke-width="1.4"/>
<line x1="530.50" y1="422.44" x2="533.70" y2="422.44" stroke="#111" stroke-width="1.5"/>
<rect x="595.90" y="442.00" width="57.30" height="131.80" fill="#4e83c3"/>
<line x1="624.55" y1="427.48" x2="624.55" y2="442.00" stroke="#111" stroke-width="1.4"/>
<line x1="622.95" y1="427.48" x2="626.15" y2="427.48" stroke="#111" stroke-width="1.5"/>
<rect x="688.00" y="531.88" width="57.80" height="41.92" fill="#4e83c3"/>
<line x1="716.90" y1="525.76" x2="716.90" y2="531.88" stroke="#111" stroke-width="1.4"/>
<line x1="715.30" y1="525.76" x2="718.50" y2="525.76" stroke="#111" stroke-width="1.5"/>
<path d="M716.80,514.40L716.80,522.40M713.34,516.40L720.26,520.40M720.26,516.40L713.34,520.40" stroke="#111" stroke-width="1.7" stroke-linecap="round" fill="none"/>
<text x="516.40" y="594.40" font-family='"Liberation Sans", sans-serif' font-size="12.5" font-weight="normal" text-anchor="start" fill="#222" textLength="30.9" lengthAdjust="spacingAndGlyphs">Blank</text>
<text x="616.20" y="594.40" font-family='"Liberation Sans", sans-serif' font-size="12.5" font-weight="normal" text-anchor="start" fill="#222" textLength="16.8" lengthAdjust="spacingAndGlyphs">NC</text>
<text x="692.40" y="594.40" font-family='"Liberation Sans", sans-serif' font-size="12.5" font-weight="normal" text-anchor="start" fill="#222" textLength="48.7" lengthAdjust="spacingAndGlyphs">miR-663</text>
<text x="436.70" y="598.80" font-family='"Liberation Sans", sans-serif' font-size="14.5" font-weight="normal" text-anchor="start" fill="#111" textLength="51.4" lengthAdjust="spacingAndGlyphs">AsPC-1</text>
<text transform="translate(444.60,484.60) rotate(-90)" x="0" y="0" font-family='"Liberation Sans", sans-serif' font-size="14.5" font-weight="normal" text-anchor="middle" fill="#1a1a1a" textLength="109.0" lengthAdjust="spacingAndGlyphs">Colony numbers</text>
</svg>
</body></html>
